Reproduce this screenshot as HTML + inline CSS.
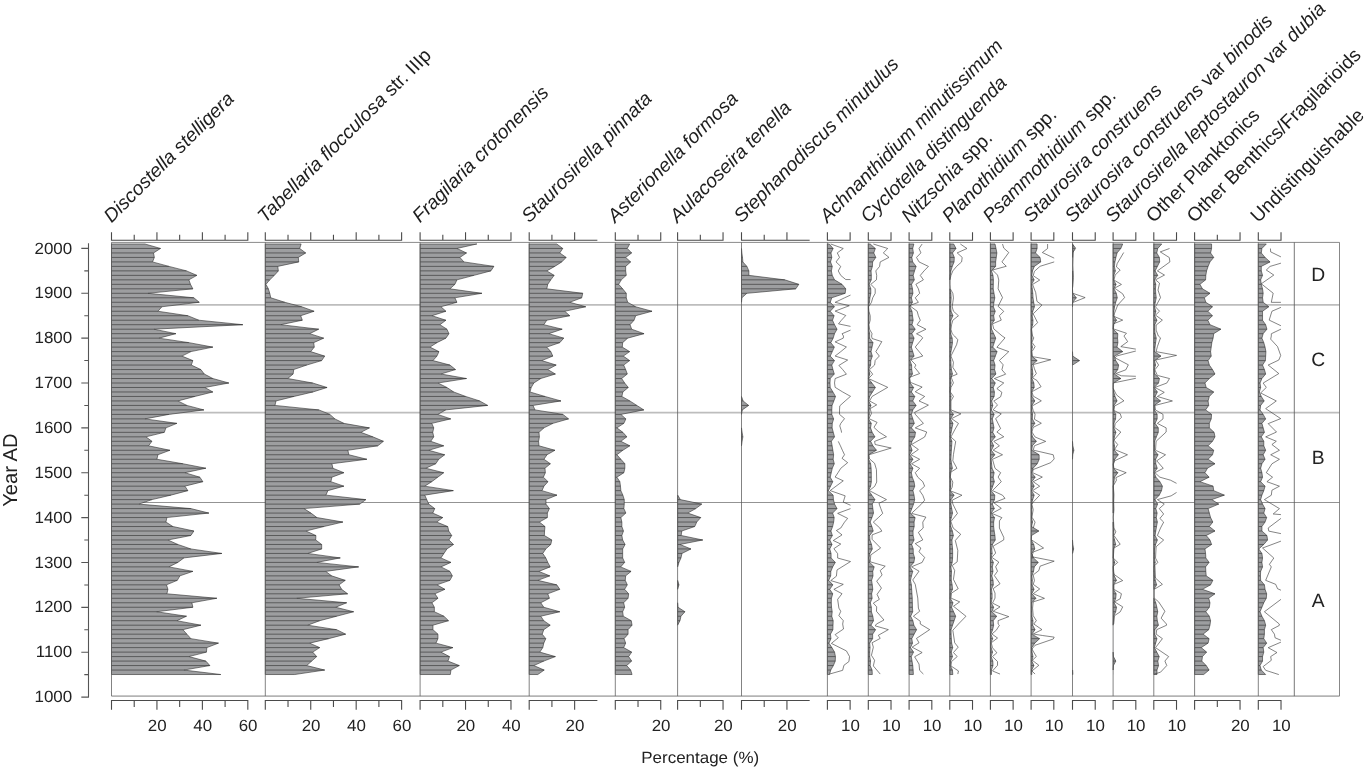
<!DOCTYPE html>
<html><head><meta charset="utf-8"><title>Diatom stratigraphy</title>
<style>html,body{margin:0;padding:0;background:#fff}svg{display:block;will-change:transform}</style></head>
<body>
<svg width="1367" height="767" viewBox="0 0 1367 767" font-family="Liberation Sans, sans-serif" text-rendering="geometricPrecision">
<rect width="1367" height="767" fill="#fff"/>
<line x1="111.50" y1="304.90" x2="1339.50" y2="304.90" stroke="#bdbdbd" stroke-width="1.7"/>
<line x1="111.50" y1="412.70" x2="1339.50" y2="412.70" stroke="#bdbdbd" stroke-width="1.7"/>
<line x1="111.50" y1="502.50" x2="1339.50" y2="502.50" stroke="#777" stroke-width="0.8"/>
<path d="M111.50 243.97 L144.94 243.97 L160.52 248.46 L153.53 252.94 L154.33 257.43 L152.53 261.91 L168.91 266.39 L186.48 270.88 L196.87 275.37 L188.88 279.85 L190.47 284.33 L192.87 288.82 L147.94 293.31 L193.87 297.79 L199.26 302.27 L161.92 306.76 L157.92 311.25 L187.88 315.73 L198.86 320.22 L242.80 324.70 L153.93 329.19 L175.90 333.67 L158.92 338.15 L188.88 342.64 L212.84 347.12 L190.87 351.61 L181.89 356.10 L192.87 360.58 L191.27 365.06 L200.86 369.55 L204.25 374.03 L212.84 378.52 L228.82 383.00 L204.85 387.49 L212.84 391.98 L194.87 396.46 L177.89 400.95 L186.88 405.43 L203.86 409.92 L168.91 414.40 L144.94 418.88 L176.89 423.37 L165.91 427.86 L164.31 432.34 L145.94 436.83 L151.93 441.31 L148.54 445.80 L169.90 450.28 L157.92 454.76 L156.92 459.25 L182.89 463.74 L205.85 468.22 L184.88 472.71 L199.86 477.19 L202.86 481.68 L184.88 486.16 L187.88 490.64 L170.90 495.13 L151.93 499.62 L138.95 504.10 L190.87 508.59 L208.85 513.07 L166.91 517.56 L165.91 522.04 L172.90 526.52 L193.87 531.01 L190.87 535.50 L167.91 539.98 L177.89 544.47 L190.87 548.95 L221.83 553.44 L183.88 557.92 L177.89 562.40 L168.91 566.89 L192.87 571.38 L179.89 575.86 L177.29 580.35 L166.51 584.83 L167.91 589.32 L166.91 593.80 L216.84 598.28 L191.87 602.77 L192.87 607.25 L156.52 611.74 L186.48 616.23 L176.89 620.71 L200.86 625.20 L182.89 629.68 L186.88 634.17 L190.87 638.65 L218.43 643.13 L206.85 647.62 L206.45 652.11 L188.88 656.59 L205.85 661.08 L209.85 665.56 L183.88 670.05 L220.83 674.53 L111.50 674.53Z" fill="#9d9ea0" stroke="none"/>
<path d="M144.94 243.97 L160.52 248.46 L153.53 252.94 L154.33 257.43 L152.53 261.91 L168.91 266.39 L186.48 270.88 L196.87 275.37 L188.88 279.85 L190.47 284.33 L192.87 288.82 L147.94 293.31 L193.87 297.79 L199.26 302.27 L161.92 306.76 L157.92 311.25 L187.88 315.73 L198.86 320.22 L242.80 324.70 L153.93 329.19 L175.90 333.67 L158.92 338.15 L188.88 342.64 L212.84 347.12 L190.87 351.61 L181.89 356.10 L192.87 360.58 L191.27 365.06 L200.86 369.55 L204.25 374.03 L212.84 378.52 L228.82 383.00 L204.85 387.49 L212.84 391.98 L194.87 396.46 L177.89 400.95 L186.88 405.43 L203.86 409.92 L168.91 414.40 L144.94 418.88 L176.89 423.37 L165.91 427.86 L164.31 432.34 L145.94 436.83 L151.93 441.31 L148.54 445.80 L169.90 450.28 L157.92 454.76 L156.92 459.25 L182.89 463.74 L205.85 468.22 L184.88 472.71 L199.86 477.19 L202.86 481.68 L184.88 486.16 L187.88 490.64 L170.90 495.13 L151.93 499.62 L138.95 504.10 L190.87 508.59 L208.85 513.07 L166.91 517.56 L165.91 522.04 L172.90 526.52 L193.87 531.01 L190.87 535.50 L167.91 539.98 L177.89 544.47 L190.87 548.95 L221.83 553.44 L183.88 557.92 L177.89 562.40 L168.91 566.89 L192.87 571.38 L179.89 575.86 L177.29 580.35 L166.51 584.83 L167.91 589.32 L166.91 593.80 L216.84 598.28 L191.87 602.77 L192.87 607.25 L156.52 611.74 L186.48 616.23 L176.89 620.71 L200.86 625.20 L182.89 629.68 L186.88 634.17 L190.87 638.65 L218.43 643.13 L206.85 647.62 L206.45 652.11 L188.88 656.59 L205.85 661.08 L209.85 665.56 L183.88 670.05 L220.83 674.53M111.50 243.97V674.53" fill="none" stroke="#303030" stroke-width="0.6" stroke-linejoin="miter"/>
<path d="M111.50 243.97H144.94M111.50 248.46H160.52M111.50 252.94H153.53M111.50 257.43H154.33M111.50 261.91H152.53M111.50 266.39H168.91M111.50 270.88H186.48M111.50 275.37H196.87M111.50 279.85H188.88M111.50 284.33H190.47M111.50 288.82H192.87M111.50 293.31H147.94M111.50 297.79H193.87M111.50 302.27H199.26M111.50 306.76H161.92M111.50 311.25H157.92M111.50 315.73H187.88M111.50 320.22H198.86M111.50 324.70H242.80M111.50 329.19H153.93M111.50 333.67H175.90M111.50 338.15H158.92M111.50 342.64H188.88M111.50 347.12H212.84M111.50 351.61H190.87M111.50 356.10H181.89M111.50 360.58H192.87M111.50 365.06H191.27M111.50 369.55H200.86M111.50 374.03H204.25M111.50 378.52H212.84M111.50 383.00H228.82M111.50 387.49H204.85M111.50 391.98H212.84M111.50 396.46H194.87M111.50 400.95H177.89M111.50 405.43H186.88M111.50 409.92H203.86M111.50 414.40H168.91M111.50 418.88H144.94M111.50 423.37H176.89M111.50 427.86H165.91M111.50 432.34H164.31M111.50 436.83H145.94M111.50 441.31H151.93M111.50 445.80H148.54M111.50 450.28H169.90M111.50 454.76H157.92M111.50 459.25H156.92M111.50 463.74H182.89M111.50 468.22H205.85M111.50 472.71H184.88M111.50 477.19H199.86M111.50 481.68H202.86M111.50 486.16H184.88M111.50 490.64H187.88M111.50 495.13H170.90M111.50 499.62H151.93M111.50 504.10H138.95M111.50 508.59H190.87M111.50 513.07H208.85M111.50 517.56H166.91M111.50 522.04H165.91M111.50 526.52H172.90M111.50 531.01H193.87M111.50 535.50H190.87M111.50 539.98H167.91M111.50 544.47H177.89M111.50 548.95H190.87M111.50 553.44H221.83M111.50 557.92H183.88M111.50 562.40H177.89M111.50 566.89H168.91M111.50 571.38H192.87M111.50 575.86H179.89M111.50 580.35H177.29M111.50 584.83H166.51M111.50 589.32H167.91M111.50 593.80H166.91M111.50 598.28H216.84M111.50 602.77H191.87M111.50 607.25H192.87M111.50 611.74H156.52M111.50 616.23H186.48M111.50 620.71H176.89M111.50 625.20H200.86M111.50 629.68H182.89M111.50 634.17H186.88M111.50 638.65H190.87M111.50 643.13H218.43M111.50 647.62H206.85M111.50 652.11H206.45M111.50 656.59H188.88M111.50 661.08H205.85M111.50 665.56H209.85M111.50 670.05H183.88M111.50 674.53H220.83" fill="none" stroke="#303030" stroke-width="0.62"/>
<path d="M265.30 243.97 L301.11 243.97 L299.71 248.46 L305.71 252.94 L298.32 257.43 L298.72 261.91 L277.75 266.39 L278.35 270.88 L274.35 275.37 L269.76 279.85 L265.96 284.33 L268.36 288.82 L269.76 293.31 L270.76 297.79 L284.74 302.27 L301.71 306.76 L314.09 311.25 L300.71 315.73 L302.31 320.22 L280.74 324.70 L318.69 329.19 L309.70 333.67 L323.68 338.15 L313.69 342.64 L314.29 347.12 L310.70 351.61 L324.68 356.10 L321.68 360.58 L306.70 365.06 L293.72 369.55 L293.12 374.03 L287.73 378.52 L312.70 383.00 L327.07 387.49 L312.93 391.98 L293.95 396.46 L275.98 400.95 L274.98 405.43 L318.92 409.92 L329.90 414.40 L334.89 418.88 L343.88 423.37 L369.44 427.86 L360.86 432.34 L372.84 436.83 L383.42 441.31 L377.83 445.80 L347.87 450.28 L348.87 454.76 L366.85 459.25 L331.90 463.74 L332.90 468.22 L343.88 472.71 L331.90 477.19 L330.90 481.68 L343.88 486.16 L327.90 490.64 L325.91 495.13 L365.85 499.62 L359.86 504.10 L303.94 508.59 L310.93 513.07 L316.92 517.56 L342.88 522.04 L323.91 526.52 L305.94 531.01 L315.92 535.50 L315.69 539.98 L321.68 544.47 L321.68 548.95 L307.70 553.44 L340.26 557.92 L316.69 562.40 L358.63 566.89 L325.68 571.38 L331.67 575.86 L345.25 580.35 L339.06 584.83 L341.65 589.32 L347.64 593.80 L296.72 598.28 L346.65 602.77 L335.66 607.25 L353.64 611.74 L336.66 616.23 L319.69 620.71 L307.70 625.20 L336.66 629.68 L345.65 634.17 L328.67 638.65 L309.70 643.13 L319.69 647.62 L312.70 652.11 L316.69 656.59 L311.70 661.08 L306.70 665.56 L324.68 670.05 L294.72 674.53 L265.30 674.53Z" fill="#9d9ea0" stroke="none"/>
<path d="M301.11 243.97 L299.71 248.46 L305.71 252.94 L298.32 257.43 L298.72 261.91 L277.75 266.39 L278.35 270.88 L274.35 275.37 L269.76 279.85 L265.96 284.33 L268.36 288.82 L269.76 293.31 L270.76 297.79 L284.74 302.27 L301.71 306.76 L314.09 311.25 L300.71 315.73 L302.31 320.22 L280.74 324.70 L318.69 329.19 L309.70 333.67 L323.68 338.15 L313.69 342.64 L314.29 347.12 L310.70 351.61 L324.68 356.10 L321.68 360.58 L306.70 365.06 L293.72 369.55 L293.12 374.03 L287.73 378.52 L312.70 383.00 L327.07 387.49 L312.93 391.98 L293.95 396.46 L275.98 400.95 L274.98 405.43 L318.92 409.92 L329.90 414.40 L334.89 418.88 L343.88 423.37 L369.44 427.86 L360.86 432.34 L372.84 436.83 L383.42 441.31 L377.83 445.80 L347.87 450.28 L348.87 454.76 L366.85 459.25 L331.90 463.74 L332.90 468.22 L343.88 472.71 L331.90 477.19 L330.90 481.68 L343.88 486.16 L327.90 490.64 L325.91 495.13 L365.85 499.62 L359.86 504.10 L303.94 508.59 L310.93 513.07 L316.92 517.56 L342.88 522.04 L323.91 526.52 L305.94 531.01 L315.92 535.50 L315.69 539.98 L321.68 544.47 L321.68 548.95 L307.70 553.44 L340.26 557.92 L316.69 562.40 L358.63 566.89 L325.68 571.38 L331.67 575.86 L345.25 580.35 L339.06 584.83 L341.65 589.32 L347.64 593.80 L296.72 598.28 L346.65 602.77 L335.66 607.25 L353.64 611.74 L336.66 616.23 L319.69 620.71 L307.70 625.20 L336.66 629.68 L345.65 634.17 L328.67 638.65 L309.70 643.13 L319.69 647.62 L312.70 652.11 L316.69 656.59 L311.70 661.08 L306.70 665.56 L324.68 670.05 L294.72 674.53M265.30 243.97V674.53" fill="none" stroke="#303030" stroke-width="0.6" stroke-linejoin="miter"/>
<path d="M265.30 243.97H301.11M265.30 248.46H299.71M265.30 252.94H305.71M265.30 257.43H298.32M265.30 261.91H298.72M265.30 266.39H277.75M265.30 270.88H278.35M265.30 275.37H274.35M265.30 279.85H269.76M265.30 284.33H265.96M265.30 288.82H268.36M265.30 293.31H269.76M265.30 297.79H270.76M265.30 302.27H284.74M265.30 306.76H301.71M265.30 311.25H314.09M265.30 315.73H300.71M265.30 320.22H302.31M265.30 324.70H280.74M265.30 329.19H318.69M265.30 333.67H309.70M265.30 338.15H323.68M265.30 342.64H313.69M265.30 347.12H314.29M265.30 351.61H310.70M265.30 356.10H324.68M265.30 360.58H321.68M265.30 365.06H306.70M265.30 369.55H293.72M265.30 374.03H293.12M265.30 378.52H287.73M265.30 383.00H312.70M265.30 387.49H327.07M265.30 391.98H312.93M265.30 396.46H293.95M265.30 400.95H275.98M265.30 405.43H274.98M265.30 409.92H318.92M265.30 414.40H329.90M265.30 418.88H334.89M265.30 423.37H343.88M265.30 427.86H369.44M265.30 432.34H360.86M265.30 436.83H372.84M265.30 441.31H383.42M265.30 445.80H377.83M265.30 450.28H347.87M265.30 454.76H348.87M265.30 459.25H366.85M265.30 463.74H331.90M265.30 468.22H332.90M265.30 472.71H343.88M265.30 477.19H331.90M265.30 481.68H330.90M265.30 486.16H343.88M265.30 490.64H327.90M265.30 495.13H325.91M265.30 499.62H365.85M265.30 504.10H359.86M265.30 508.59H303.94M265.30 513.07H310.93M265.30 517.56H316.92M265.30 522.04H342.88M265.30 526.52H323.91M265.30 531.01H305.94M265.30 535.50H315.92M265.30 539.98H315.69M265.30 544.47H321.68M265.30 548.95H321.68M265.30 553.44H307.70M265.30 557.92H340.26M265.30 562.40H316.69M265.30 566.89H358.63M265.30 571.38H325.68M265.30 575.86H331.67M265.30 580.35H345.25M265.30 584.83H339.06M265.30 589.32H341.65M265.30 593.80H347.64M265.30 598.28H296.72M265.30 602.77H346.65M265.30 607.25H335.66M265.30 611.74H353.64M265.30 616.23H336.66M265.30 620.71H319.69M265.30 625.20H307.70M265.30 629.68H336.66M265.30 634.17H345.65M265.30 638.65H328.67M265.30 643.13H309.70M265.30 647.62H319.69M265.30 652.11H312.70M265.30 656.59H316.69M265.30 661.08H311.70M265.30 665.56H306.70M265.30 670.05H324.68M265.30 674.53H294.72" fill="none" stroke="#303030" stroke-width="0.62"/>
<path d="M420.10 243.97 L476.89 243.97 L456.92 248.46 L466.50 252.94 L459.91 257.43 L463.91 261.91 L493.86 266.39 L490.87 270.88 L473.89 275.37 L456.92 279.85 L454.92 284.33 L449.93 288.82 L481.88 293.31 L454.92 297.79 L456.92 302.27 L440.94 306.76 L445.93 311.25 L431.95 315.73 L445.93 320.22 L439.94 324.70 L446.93 329.19 L448.93 333.67 L445.93 338.15 L436.95 342.64 L429.96 347.12 L438.94 351.61 L436.95 356.10 L432.95 360.58 L449.93 365.06 L455.52 369.55 L440.94 374.03 L466.50 378.52 L437.94 383.00 L446.93 387.49 L453.72 391.98 L465.70 396.46 L479.68 400.95 L487.67 405.43 L445.73 409.92 L437.74 414.40 L450.72 418.88 L431.75 423.37 L433.75 427.86 L432.75 432.34 L433.75 436.83 L430.75 441.31 L443.73 445.80 L428.76 450.28 L444.73 454.76 L438.74 459.25 L435.75 463.74 L425.76 468.22 L443.73 472.71 L437.74 477.19 L431.75 481.68 L424.76 486.16 L453.32 490.64 L424.76 495.13 L426.76 499.62 L428.76 504.10 L434.75 508.59 L432.75 513.07 L442.74 517.56 L436.74 522.04 L447.73 526.52 L448.73 531.01 L451.72 535.50 L448.93 539.98 L453.52 544.47 L446.93 548.95 L443.94 553.44 L440.94 557.92 L450.93 562.40 L440.94 566.89 L449.93 571.38 L452.32 575.86 L449.93 580.35 L436.95 584.83 L444.93 589.32 L434.95 593.80 L437.94 598.28 L431.95 602.77 L434.35 607.25 L434.35 611.74 L443.94 616.23 L448.53 620.71 L432.95 625.20 L432.95 629.68 L437.94 634.17 L437.94 638.65 L435.95 643.13 L452.92 647.62 L440.94 652.11 L449.53 656.59 L447.93 661.08 L459.31 665.56 L450.93 670.05 L450.33 674.53 L420.10 674.53Z" fill="#9d9ea0" stroke="none"/>
<path d="M476.89 243.97 L456.92 248.46 L466.50 252.94 L459.91 257.43 L463.91 261.91 L493.86 266.39 L490.87 270.88 L473.89 275.37 L456.92 279.85 L454.92 284.33 L449.93 288.82 L481.88 293.31 L454.92 297.79 L456.92 302.27 L440.94 306.76 L445.93 311.25 L431.95 315.73 L445.93 320.22 L439.94 324.70 L446.93 329.19 L448.93 333.67 L445.93 338.15 L436.95 342.64 L429.96 347.12 L438.94 351.61 L436.95 356.10 L432.95 360.58 L449.93 365.06 L455.52 369.55 L440.94 374.03 L466.50 378.52 L437.94 383.00 L446.93 387.49 L453.72 391.98 L465.70 396.46 L479.68 400.95 L487.67 405.43 L445.73 409.92 L437.74 414.40 L450.72 418.88 L431.75 423.37 L433.75 427.86 L432.75 432.34 L433.75 436.83 L430.75 441.31 L443.73 445.80 L428.76 450.28 L444.73 454.76 L438.74 459.25 L435.75 463.74 L425.76 468.22 L443.73 472.71 L437.74 477.19 L431.75 481.68 L424.76 486.16 L453.32 490.64 L424.76 495.13 L426.76 499.62 L428.76 504.10 L434.75 508.59 L432.75 513.07 L442.74 517.56 L436.74 522.04 L447.73 526.52 L448.73 531.01 L451.72 535.50 L448.93 539.98 L453.52 544.47 L446.93 548.95 L443.94 553.44 L440.94 557.92 L450.93 562.40 L440.94 566.89 L449.93 571.38 L452.32 575.86 L449.93 580.35 L436.95 584.83 L444.93 589.32 L434.95 593.80 L437.94 598.28 L431.95 602.77 L434.35 607.25 L434.35 611.74 L443.94 616.23 L448.53 620.71 L432.95 625.20 L432.95 629.68 L437.94 634.17 L437.94 638.65 L435.95 643.13 L452.92 647.62 L440.94 652.11 L449.53 656.59 L447.93 661.08 L459.31 665.56 L450.93 670.05 L450.33 674.53M420.10 243.97V674.53" fill="none" stroke="#303030" stroke-width="0.6" stroke-linejoin="miter"/>
<path d="M420.10 243.97H476.89M420.10 248.46H456.92M420.10 252.94H466.50M420.10 257.43H459.91M420.10 261.91H463.91M420.10 266.39H493.86M420.10 270.88H490.87M420.10 275.37H473.89M420.10 279.85H456.92M420.10 284.33H454.92M420.10 288.82H449.93M420.10 293.31H481.88M420.10 297.79H454.92M420.10 302.27H456.92M420.10 306.76H440.94M420.10 311.25H445.93M420.10 315.73H431.95M420.10 320.22H445.93M420.10 324.70H439.94M420.10 329.19H446.93M420.10 333.67H448.93M420.10 338.15H445.93M420.10 342.64H436.95M420.10 347.12H429.96M420.10 351.61H438.94M420.10 356.10H436.95M420.10 360.58H432.95M420.10 365.06H449.93M420.10 369.55H455.52M420.10 374.03H440.94M420.10 378.52H466.50M420.10 383.00H437.94M420.10 387.49H446.93M420.10 391.98H453.72M420.10 396.46H465.70M420.10 400.95H479.68M420.10 405.43H487.67M420.10 409.92H445.73M420.10 414.40H437.74M420.10 418.88H450.72M420.10 423.37H431.75M420.10 427.86H433.75M420.10 432.34H432.75M420.10 436.83H433.75M420.10 441.31H430.75M420.10 445.80H443.73M420.10 450.28H428.76M420.10 454.76H444.73M420.10 459.25H438.74M420.10 463.74H435.75M420.10 468.22H425.76M420.10 472.71H443.73M420.10 477.19H437.74M420.10 481.68H431.75M420.10 486.16H424.76M420.10 490.64H453.32M420.10 495.13H424.76M420.10 499.62H426.76M420.10 504.10H428.76M420.10 508.59H434.75M420.10 513.07H432.75M420.10 517.56H442.74M420.10 522.04H436.74M420.10 526.52H447.73M420.10 531.01H448.73M420.10 535.50H451.72M420.10 539.98H448.93M420.10 544.47H453.52M420.10 548.95H446.93M420.10 553.44H443.94M420.10 557.92H440.94M420.10 562.40H450.93M420.10 566.89H440.94M420.10 571.38H449.93M420.10 575.86H452.32M420.10 580.35H449.93M420.10 584.83H436.95M420.10 589.32H444.93M420.10 593.80H434.95M420.10 598.28H437.94M420.10 602.77H431.95M420.10 607.25H434.35M420.10 611.74H434.35M420.10 616.23H443.94M420.10 620.71H448.53M420.10 625.20H432.95M420.10 629.68H432.95M420.10 634.17H437.94M420.10 638.65H437.94M420.10 643.13H435.95M420.10 647.62H452.92M420.10 652.11H440.94M420.10 656.59H449.53M420.10 661.08H447.93M420.10 665.56H459.31M420.10 670.05H450.93M420.10 674.53H450.33" fill="none" stroke="#303030" stroke-width="0.62"/>
<path d="M529.20 243.97 L556.77 243.97 L562.76 248.46 L559.77 252.94 L566.16 257.43 L561.76 261.91 L554.77 266.39 L546.78 270.88 L554.17 275.37 L550.78 279.85 L547.78 284.33 L546.78 288.82 L582.73 293.31 L581.73 297.79 L569.75 302.27 L585.73 306.76 L564.76 311.25 L569.75 315.73 L546.78 320.22 L543.79 324.70 L562.16 329.19 L548.78 333.67 L563.76 338.15 L559.77 342.64 L546.78 347.12 L550.78 351.61 L552.78 356.10 L541.79 360.58 L556.17 365.06 L547.78 369.55 L555.37 374.03 L540.79 378.52 L533.80 383.00 L531.21 387.49 L529.99 391.98 L544.97 396.46 L560.95 400.95 L532.99 405.43 L534.99 409.92 L562.94 414.40 L568.54 418.88 L552.96 423.37 L543.97 427.86 L538.98 432.34 L539.38 436.83 L538.58 441.31 L538.98 445.80 L554.96 450.28 L546.97 454.76 L543.97 459.25 L550.36 463.74 L544.97 468.22 L545.37 472.71 L543.37 477.19 L547.97 481.68 L543.97 486.16 L541.98 490.64 L556.95 495.13 L545.97 499.62 L545.97 504.10 L549.36 508.59 L547.37 513.07 L547.37 517.56 L539.38 522.04 L544.97 526.52 L544.57 531.01 L544.37 535.50 L551.78 539.98 L550.78 544.47 L545.79 548.95 L542.79 553.44 L545.79 557.92 L547.78 562.40 L550.18 566.89 L538.80 571.38 L549.78 575.86 L537.80 580.35 L556.77 584.83 L559.77 589.32 L547.78 593.80 L549.38 598.28 L540.79 602.77 L543.79 607.25 L559.77 611.74 L540.79 616.23 L543.79 620.71 L550.18 625.20 L543.79 629.68 L542.19 634.17 L545.79 638.65 L543.79 643.13 L542.79 647.62 L539.80 652.11 L555.37 656.59 L543.79 661.08 L533.80 665.56 L544.19 670.05 L537.80 674.53 L529.20 674.53Z" fill="#9d9ea0" stroke="none"/>
<path d="M556.77 243.97 L562.76 248.46 L559.77 252.94 L566.16 257.43 L561.76 261.91 L554.77 266.39 L546.78 270.88 L554.17 275.37 L550.78 279.85 L547.78 284.33 L546.78 288.82 L582.73 293.31 L581.73 297.79 L569.75 302.27 L585.73 306.76 L564.76 311.25 L569.75 315.73 L546.78 320.22 L543.79 324.70 L562.16 329.19 L548.78 333.67 L563.76 338.15 L559.77 342.64 L546.78 347.12 L550.78 351.61 L552.78 356.10 L541.79 360.58 L556.17 365.06 L547.78 369.55 L555.37 374.03 L540.79 378.52 L533.80 383.00 L531.21 387.49 L529.99 391.98 L544.97 396.46 L560.95 400.95 L532.99 405.43 L534.99 409.92 L562.94 414.40 L568.54 418.88 L552.96 423.37 L543.97 427.86 L538.98 432.34 L539.38 436.83 L538.58 441.31 L538.98 445.80 L554.96 450.28 L546.97 454.76 L543.97 459.25 L550.36 463.74 L544.97 468.22 L545.37 472.71 L543.37 477.19 L547.97 481.68 L543.97 486.16 L541.98 490.64 L556.95 495.13 L545.97 499.62 L545.97 504.10 L549.36 508.59 L547.37 513.07 L547.37 517.56 L539.38 522.04 L544.97 526.52 L544.57 531.01 L544.37 535.50 L551.78 539.98 L550.78 544.47 L545.79 548.95 L542.79 553.44 L545.79 557.92 L547.78 562.40 L550.18 566.89 L538.80 571.38 L549.78 575.86 L537.80 580.35 L556.77 584.83 L559.77 589.32 L547.78 593.80 L549.38 598.28 L540.79 602.77 L543.79 607.25 L559.77 611.74 L540.79 616.23 L543.79 620.71 L550.18 625.20 L543.79 629.68 L542.19 634.17 L545.79 638.65 L543.79 643.13 L542.79 647.62 L539.80 652.11 L555.37 656.59 L543.79 661.08 L533.80 665.56 L544.19 670.05 L537.80 674.53M529.20 243.97V674.53" fill="none" stroke="#303030" stroke-width="0.6" stroke-linejoin="miter"/>
<path d="M529.20 243.97H556.77M529.20 248.46H562.76M529.20 252.94H559.77M529.20 257.43H566.16M529.20 261.91H561.76M529.20 266.39H554.77M529.20 270.88H546.78M529.20 275.37H554.17M529.20 279.85H550.78M529.20 284.33H547.78M529.20 288.82H546.78M529.20 293.31H582.73M529.20 297.79H581.73M529.20 302.27H569.75M529.20 306.76H585.73M529.20 311.25H564.76M529.20 315.73H569.75M529.20 320.22H546.78M529.20 324.70H543.79M529.20 329.19H562.16M529.20 333.67H548.78M529.20 338.15H563.76M529.20 342.64H559.77M529.20 347.12H546.78M529.20 351.61H550.78M529.20 356.10H552.78M529.20 360.58H541.79M529.20 365.06H556.17M529.20 369.55H547.78M529.20 374.03H555.37M529.20 378.52H540.79M529.20 383.00H533.80M529.20 387.49H531.21M529.20 391.98H529.99M529.20 396.46H544.97M529.20 400.95H560.95M529.20 405.43H532.99M529.20 409.92H534.99M529.20 414.40H562.94M529.20 418.88H568.54M529.20 423.37H552.96M529.20 427.86H543.97M529.20 432.34H538.98M529.20 436.83H539.38M529.20 441.31H538.58M529.20 445.80H538.98M529.20 450.28H554.96M529.20 454.76H546.97M529.20 459.25H543.97M529.20 463.74H550.36M529.20 468.22H544.97M529.20 472.71H545.37M529.20 477.19H543.37M529.20 481.68H547.97M529.20 486.16H543.97M529.20 490.64H541.98M529.20 495.13H556.95M529.20 499.62H545.97M529.20 504.10H545.97M529.20 508.59H549.36M529.20 513.07H547.37M529.20 517.56H547.37M529.20 522.04H539.38M529.20 526.52H544.97M529.20 531.01H544.57M529.20 535.50H544.37M529.20 539.98H551.78M529.20 544.47H550.78M529.20 548.95H545.79M529.20 553.44H542.79M529.20 557.92H545.79M529.20 562.40H547.78M529.20 566.89H550.18M529.20 571.38H538.80M529.20 575.86H549.78M529.20 580.35H537.80M529.20 584.83H556.77M529.20 589.32H559.77M529.20 593.80H547.78M529.20 598.28H549.38M529.20 602.77H540.79M529.20 607.25H543.79M529.20 611.74H559.77M529.20 616.23H540.79M529.20 620.71H543.79M529.20 625.20H550.18M529.20 629.68H543.79M529.20 634.17H542.19M529.20 638.65H545.79M529.20 643.13H543.79M529.20 647.62H542.79M529.20 652.11H539.80M529.20 656.59H555.37M529.20 661.08H543.79M529.20 665.56H533.80M529.20 670.05H544.19M529.20 674.53H537.80" fill="none" stroke="#303030" stroke-width="0.62"/>
<path d="M615.30 243.97 L629.66 243.97 L627.27 248.46 L631.66 252.94 L625.67 257.43 L630.66 261.91 L625.67 266.39 L625.67 270.88 L626.27 275.37 L621.28 279.85 L618.68 284.33 L622.67 288.82 L626.27 293.31 L626.27 297.79 L627.67 302.27 L635.65 306.76 L652.03 311.25 L635.65 315.73 L634.06 320.22 L630.06 324.70 L631.66 329.19 L644.04 333.67 L627.67 338.15 L622.67 342.64 L622.27 347.12 L629.66 351.61 L623.27 356.10 L629.66 360.58 L623.67 365.06 L625.67 369.55 L627.27 374.03 L621.68 378.52 L624.67 383.00 L628.27 387.49 L622.86 391.98 L621.86 396.46 L629.85 400.95 L636.84 405.43 L643.83 409.92 L620.86 414.40 L625.85 418.88 L623.86 423.37 L616.87 427.86 L622.86 432.34 L626.85 436.83 L620.86 441.31 L629.85 445.80 L622.86 450.28 L616.87 454.76 L620.86 459.25 L624.85 463.74 L624.85 468.22 L623.86 472.71 L616.87 477.19 L619.86 481.68 L620.46 486.16 L620.86 490.64 L622.86 495.13 L624.25 499.62 L624.25 504.10 L623.86 508.59 L625.85 513.07 L620.86 517.56 L621.86 522.04 L621.86 526.52 L623.46 531.01 L621.86 535.50 L622.67 539.98 L625.07 544.47 L622.67 548.95 L622.67 553.44 L622.67 557.92 L624.67 562.40 L620.68 566.89 L631.06 571.38 L625.67 575.86 L625.27 580.35 L627.27 584.83 L624.67 589.32 L628.66 593.80 L628.07 598.28 L623.67 602.77 L624.67 607.25 L622.67 611.74 L623.27 616.23 L631.26 620.71 L632.06 625.20 L628.07 629.68 L628.07 634.17 L624.07 638.65 L625.67 643.13 L623.67 647.62 L631.66 652.11 L628.66 656.59 L631.66 661.08 L626.67 665.56 L630.66 670.05 L632.06 674.53 L615.30 674.53Z" fill="#9d9ea0" stroke="none"/>
<path d="M629.66 243.97 L627.27 248.46 L631.66 252.94 L625.67 257.43 L630.66 261.91 L625.67 266.39 L625.67 270.88 L626.27 275.37 L621.28 279.85 L618.68 284.33 L622.67 288.82 L626.27 293.31 L626.27 297.79 L627.67 302.27 L635.65 306.76 L652.03 311.25 L635.65 315.73 L634.06 320.22 L630.06 324.70 L631.66 329.19 L644.04 333.67 L627.67 338.15 L622.67 342.64 L622.27 347.12 L629.66 351.61 L623.27 356.10 L629.66 360.58 L623.67 365.06 L625.67 369.55 L627.27 374.03 L621.68 378.52 L624.67 383.00 L628.27 387.49 L622.86 391.98 L621.86 396.46 L629.85 400.95 L636.84 405.43 L643.83 409.92 L620.86 414.40 L625.85 418.88 L623.86 423.37 L616.87 427.86 L622.86 432.34 L626.85 436.83 L620.86 441.31 L629.85 445.80 L622.86 450.28 L616.87 454.76 L620.86 459.25 L624.85 463.74 L624.85 468.22 L623.86 472.71 L616.87 477.19 L619.86 481.68 L620.46 486.16 L620.86 490.64 L622.86 495.13 L624.25 499.62 L624.25 504.10 L623.86 508.59 L625.85 513.07 L620.86 517.56 L621.86 522.04 L621.86 526.52 L623.46 531.01 L621.86 535.50 L622.67 539.98 L625.07 544.47 L622.67 548.95 L622.67 553.44 L622.67 557.92 L624.67 562.40 L620.68 566.89 L631.06 571.38 L625.67 575.86 L625.27 580.35 L627.27 584.83 L624.67 589.32 L628.66 593.80 L628.07 598.28 L623.67 602.77 L624.67 607.25 L622.67 611.74 L623.27 616.23 L631.26 620.71 L632.06 625.20 L628.07 629.68 L628.07 634.17 L624.07 638.65 L625.67 643.13 L623.67 647.62 L631.66 652.11 L628.66 656.59 L631.66 661.08 L626.67 665.56 L630.66 670.05 L632.06 674.53M615.30 243.97V674.53" fill="none" stroke="#303030" stroke-width="0.6" stroke-linejoin="miter"/>
<path d="M615.30 243.97H629.66M615.30 248.46H627.27M615.30 252.94H631.66M615.30 257.43H625.67M615.30 261.91H630.66M615.30 266.39H625.67M615.30 270.88H625.67M615.30 275.37H626.27M615.30 279.85H621.28M615.30 284.33H618.68M615.30 288.82H622.67M615.30 293.31H626.27M615.30 297.79H626.27M615.30 302.27H627.67M615.30 306.76H635.65M615.30 311.25H652.03M615.30 315.73H635.65M615.30 320.22H634.06M615.30 324.70H630.06M615.30 329.19H631.66M615.30 333.67H644.04M615.30 338.15H627.67M615.30 342.64H622.67M615.30 347.12H622.27M615.30 351.61H629.66M615.30 356.10H623.27M615.30 360.58H629.66M615.30 365.06H623.67M615.30 369.55H625.67M615.30 374.03H627.27M615.30 378.52H621.68M615.30 383.00H624.67M615.30 387.49H628.27M615.30 391.98H622.86M615.30 396.46H621.86M615.30 400.95H629.85M615.30 405.43H636.84M615.30 409.92H643.83M615.30 414.40H620.86M615.30 418.88H625.85M615.30 423.37H623.86M615.30 427.86H616.87M615.30 432.34H622.86M615.30 436.83H626.85M615.30 441.31H620.86M615.30 445.80H629.85M615.30 450.28H622.86M615.30 454.76H616.87M615.30 459.25H620.86M615.30 463.74H624.85M615.30 468.22H624.85M615.30 472.71H623.86M615.30 477.19H616.87M615.30 481.68H619.86M615.30 486.16H620.46M615.30 490.64H620.86M615.30 495.13H622.86M615.30 499.62H624.25M615.30 504.10H624.25M615.30 508.59H623.86M615.30 513.07H625.85M615.30 517.56H620.86M615.30 522.04H621.86M615.30 526.52H621.86M615.30 531.01H623.46M615.30 535.50H621.86M615.30 539.98H622.67M615.30 544.47H625.07M615.30 548.95H622.67M615.30 553.44H622.67M615.30 557.92H622.67M615.30 562.40H624.67M615.30 566.89H620.68M615.30 571.38H631.06M615.30 575.86H625.67M615.30 580.35H625.27M615.30 584.83H627.27M615.30 589.32H624.67M615.30 593.80H628.66M615.30 598.28H628.07M615.30 602.77H623.67M615.30 607.25H624.67M615.30 611.74H622.67M615.30 616.23H623.27M615.30 620.71H631.26M615.30 625.20H632.06M615.30 629.68H628.07M615.30 634.17H628.07M615.30 638.65H624.07M615.30 643.13H625.67M615.30 647.62H623.67M615.30 652.11H631.66M615.30 656.59H628.66M615.30 661.08H631.66M615.30 665.56H626.67M615.30 670.05H630.66M615.30 674.53H632.06" fill="none" stroke="#303030" stroke-width="0.62"/>
<path d="M677.60 243.97 L677.60 243.97 L677.60 248.46 L677.60 252.94 L677.60 257.43 L677.60 261.91 L677.60 266.39 L677.60 270.88 L677.60 275.37 L677.60 279.85 L677.60 284.33 L677.60 288.82 L677.60 293.31 L677.60 297.79 L677.60 302.27 L677.60 306.76 L677.60 311.25 L677.60 315.73 L677.60 320.22 L677.60 324.70 L677.60 329.19 L677.60 333.67 L677.60 338.15 L677.60 342.64 L677.60 347.12 L677.60 351.61 L677.60 356.10 L677.60 360.58 L677.60 365.06 L677.60 369.55 L677.60 374.03 L677.60 378.52 L677.60 383.00 L677.60 387.49 L677.60 391.98 L677.60 396.46 L677.60 400.95 L677.60 405.43 L677.60 409.92 L677.60 414.40 L677.60 418.88 L677.60 423.37 L677.60 427.86 L677.60 432.34 L677.60 436.83 L677.60 441.31 L677.60 445.80 L677.60 450.28 L677.60 454.76 L677.60 459.25 L677.60 463.74 L677.60 468.22 L677.60 472.71 L677.60 477.19 L677.60 481.68 L677.60 486.16 L677.60 490.64 L677.78 495.13 L680.37 499.62 L701.74 504.10 L695.75 508.59 L687.76 513.07 L700.74 517.56 L696.75 522.04 L694.75 526.52 L681.77 531.01 L681.17 535.50 L702.74 539.98 L679.97 544.47 L690.95 548.95 L681.97 553.44 L680.97 557.92 L678.97 562.40 L677.60 566.89 L677.60 571.38 L677.60 575.86 L677.60 580.35 L678.97 584.83 L677.60 589.32 L677.60 593.80 L677.60 598.28 L677.60 602.77 L677.97 607.25 L684.96 611.74 L680.97 616.23 L679.97 620.71 L677.60 625.20 L677.60 629.68 L677.60 634.17 L677.60 638.65 L677.60 643.13 L677.60 647.62 L677.60 652.11 L677.60 656.59 L677.60 661.08 L677.60 665.56 L677.60 670.05 L677.60 674.53 L677.60 674.53Z" fill="#9d9ea0" stroke="none"/>
<path d="M677.78 495.13 L680.37 499.62 L701.74 504.10 L695.75 508.59 L687.76 513.07 L700.74 517.56 L696.75 522.04 L694.75 526.52 L681.77 531.01 L681.17 535.50 L702.74 539.98 L679.97 544.47 L690.95 548.95 L681.97 553.44 L680.97 557.92 L678.97 562.40 L677.60 566.89M677.60 495.13V566.89M677.60 580.35 L678.97 584.83 L677.60 589.32M677.60 580.35V589.32M677.60 602.77 L677.97 607.25 L684.96 611.74 L680.97 616.23 L679.97 620.71 L677.60 625.20M677.60 602.77V625.20" fill="none" stroke="#303030" stroke-width="0.6" stroke-linejoin="miter"/>
<path d="M677.60 499.62H680.37M677.60 504.10H701.74M677.60 508.59H695.75M677.60 513.07H687.76M677.60 517.56H700.74M677.60 522.04H696.75M677.60 526.52H694.75M677.60 531.01H681.77M677.60 535.50H681.17M677.60 539.98H702.74M677.60 544.47H679.97M677.60 548.95H690.95M677.60 553.44H681.97M677.60 557.92H680.97M677.60 562.40H678.97M677.60 584.83H678.97M677.60 607.25H677.97M677.60 611.74H684.96M677.60 616.23H680.97M677.60 620.71H679.97" fill="none" stroke="#303030" stroke-width="0.62"/>
<path d="M741.50 243.97 L741.50 243.97 L741.50 248.46 L741.88 252.94 L742.48 257.43 L742.88 261.91 L746.87 266.39 L748.87 270.88 L748.87 275.37 L784.82 279.85 L798.80 284.33 L795.80 288.82 L746.87 293.31 L741.88 297.79 L741.50 302.27 L741.50 306.76 L741.50 311.25 L741.50 315.73 L741.50 320.22 L741.50 324.70 L741.50 329.19 L741.50 333.67 L741.50 338.15 L741.50 342.64 L741.50 347.12 L741.50 351.61 L741.50 356.10 L741.50 360.58 L741.50 365.06 L741.50 369.55 L741.50 374.03 L741.50 378.52 L741.50 383.00 L741.50 387.49 L741.50 391.98 L741.50 396.46 L743.08 400.95 L748.67 405.43 L742.28 409.92 L741.50 414.40 L741.50 418.88 L741.50 423.37 L741.50 427.86 L742.08 432.34 L742.88 436.83 L742.08 441.31 L741.50 445.80 L741.50 450.28 L741.50 454.76 L741.50 459.25 L741.50 463.74 L741.50 468.22 L741.50 472.71 L741.50 477.19 L741.50 481.68 L741.50 486.16 L741.50 490.64 L741.50 495.13 L741.50 499.62 L741.50 504.10 L741.50 508.59 L741.50 513.07 L741.50 517.56 L741.50 522.04 L741.50 526.52 L741.50 531.01 L741.50 535.50 L741.50 539.98 L741.50 544.47 L741.50 548.95 L741.50 553.44 L741.50 557.92 L741.50 562.40 L741.50 566.89 L741.50 571.38 L741.50 575.86 L741.50 580.35 L741.50 584.83 L741.50 589.32 L741.50 593.80 L741.50 598.28 L741.50 602.77 L741.50 607.25 L741.50 611.74 L741.50 616.23 L741.50 620.71 L741.50 625.20 L741.50 629.68 L741.50 634.17 L741.50 638.65 L741.50 643.13 L741.50 647.62 L741.50 652.11 L741.50 656.59 L741.50 661.08 L741.50 665.56 L741.50 670.05 L741.50 674.53 L741.50 674.53Z" fill="#9d9ea0" stroke="none"/>
<path d="M741.50 248.46 L741.88 252.94 L742.48 257.43 L742.88 261.91 L746.87 266.39 L748.87 270.88 L748.87 275.37 L784.82 279.85 L798.80 284.33 L795.80 288.82 L746.87 293.31 L741.88 297.79 L741.50 302.27M741.50 248.46V302.27M741.50 396.46 L743.08 400.95 L748.67 405.43 L742.28 409.92 L741.50 414.40M741.50 396.46V414.40M741.50 427.86 L742.08 432.34 L742.88 436.83 L742.08 441.31 L741.50 445.80M741.50 427.86V445.80" fill="none" stroke="#303030" stroke-width="0.6" stroke-linejoin="miter"/>
<path d="M741.50 252.94H741.88M741.50 257.43H742.48M741.50 261.91H742.88M741.50 266.39H746.87M741.50 270.88H748.87M741.50 275.37H748.87M741.50 279.85H784.82M741.50 284.33H798.80M741.50 288.82H795.80M741.50 293.31H746.87M741.50 297.79H741.88M741.50 400.95H743.08M741.50 405.43H748.67M741.50 409.92H742.28M741.50 432.34H742.08M741.50 436.83H742.88M741.50 441.31H742.08" fill="none" stroke="#303030" stroke-width="0.62"/>
<path d="M827.40 243.97 L829.26 243.97 L833.12 248.46 L830.99 252.94 L831.81 257.43 L830.53 261.91 L832.26 266.39 L831.36 270.88 L832.25 275.37 L834.52 279.85 L842.03 284.33 L845.78 288.82 L845.16 293.31 L831.76 297.79 L830.27 302.27 L834.37 306.76 L830.22 311.25 L834.09 315.73 L832.50 320.22 L834.52 324.70 L837.02 329.19 L834.52 333.67 L833.17 338.15 L830.82 342.64 L834.31 347.12 L832.28 351.61 L830.22 356.10 L834.45 360.58 L831.79 365.06 L832.95 369.55 L834.27 374.03 L830.26 378.52 L829.99 383.00 L830.22 387.49 L832.95 391.98 L835.50 396.46 L833.87 400.95 L832.07 405.43 L831.81 409.92 L831.81 414.40 L833.63 418.88 L832.27 423.37 L832.12 427.86 L833.27 432.34 L834.52 436.83 L831.39 441.31 L832.13 445.80 L832.86 450.28 L833.63 454.76 L833.17 459.25 L834.29 463.74 L832.30 468.22 L831.26 472.71 L830.22 477.19 L832.76 481.68 L830.56 486.16 L828.40 490.64 L833.12 495.13 L833.45 499.62 L834.52 504.10 L837.02 508.59 L832.64 513.07 L834.17 517.56 L833.66 522.04 L832.61 526.52 L830.91 531.01 L832.37 535.50 L829.84 539.98 L832.03 544.47 L829.76 548.95 L831.06 553.44 L831.13 557.92 L835.30 562.40 L832.68 566.89 L830.85 571.38 L830.68 575.86 L828.73 580.35 L832.84 584.83 L829.78 589.32 L832.72 593.80 L831.43 598.28 L831.30 602.77 L831.54 607.25 L832.19 611.74 L831.77 616.23 L833.17 620.71 L833.02 625.20 L832.90 629.68 L830.47 634.17 L830.96 638.65 L828.97 643.13 L831.92 647.62 L834.55 652.11 L835.45 656.59 L835.25 661.08 L833.40 665.56 L830.76 670.05 L829.51 674.53 L827.40 674.53Z" fill="#9d9ea0" stroke="none"/>
<path d="M829.26 243.97 L833.12 248.46 L830.99 252.94 L831.81 257.43 L830.53 261.91 L832.26 266.39 L831.36 270.88 L832.25 275.37 L834.52 279.85 L842.03 284.33 L845.78 288.82 L845.16 293.31 L831.76 297.79 L830.27 302.27 L834.37 306.76 L830.22 311.25 L834.09 315.73 L832.50 320.22 L834.52 324.70 L837.02 329.19 L834.52 333.67 L833.17 338.15 L830.82 342.64 L834.31 347.12 L832.28 351.61 L830.22 356.10 L834.45 360.58 L831.79 365.06 L832.95 369.55 L834.27 374.03 L830.26 378.52 L829.99 383.00 L830.22 387.49 L832.95 391.98 L835.50 396.46 L833.87 400.95 L832.07 405.43 L831.81 409.92 L831.81 414.40 L833.63 418.88 L832.27 423.37 L832.12 427.86 L833.27 432.34 L834.52 436.83 L831.39 441.31 L832.13 445.80 L832.86 450.28 L833.63 454.76 L833.17 459.25 L834.29 463.74 L832.30 468.22 L831.26 472.71 L830.22 477.19 L832.76 481.68 L830.56 486.16 L828.40 490.64 L833.12 495.13 L833.45 499.62 L834.52 504.10 L837.02 508.59 L832.64 513.07 L834.17 517.56 L833.66 522.04 L832.61 526.52 L830.91 531.01 L832.37 535.50 L829.84 539.98 L832.03 544.47 L829.76 548.95 L831.06 553.44 L831.13 557.92 L835.30 562.40 L832.68 566.89 L830.85 571.38 L830.68 575.86 L828.73 580.35 L832.84 584.83 L829.78 589.32 L832.72 593.80 L831.43 598.28 L831.30 602.77 L831.54 607.25 L832.19 611.74 L831.77 616.23 L833.17 620.71 L833.02 625.20 L832.90 629.68 L830.47 634.17 L830.96 638.65 L828.97 643.13 L831.92 647.62 L834.55 652.11 L835.45 656.59 L835.25 661.08 L833.40 665.56 L830.76 670.05 L829.51 674.53M827.40 243.97V674.53" fill="none" stroke="#303030" stroke-width="0.6" stroke-linejoin="miter"/>
<path d="M827.40 243.97H829.26M827.40 248.46H833.12M827.40 252.94H830.99M827.40 257.43H831.81M827.40 261.91H830.53M827.40 266.39H832.26M827.40 270.88H831.36M827.40 275.37H832.25M827.40 279.85H834.52M827.40 284.33H842.03M827.40 288.82H845.78M827.40 293.31H845.16M827.40 297.79H831.76M827.40 302.27H830.27M827.40 306.76H834.37M827.40 311.25H830.22M827.40 315.73H834.09M827.40 320.22H832.50M827.40 324.70H834.52M827.40 329.19H837.02M827.40 333.67H834.52M827.40 338.15H833.17M827.40 342.64H830.82M827.40 347.12H834.31M827.40 351.61H832.28M827.40 356.10H830.22M827.40 360.58H834.45M827.40 365.06H831.79M827.40 369.55H832.95M827.40 374.03H834.27M827.40 378.52H830.26M827.40 383.00H829.99M827.40 387.49H830.22M827.40 391.98H832.95M827.40 396.46H835.50M827.40 400.95H833.87M827.40 405.43H832.07M827.40 409.92H831.81M827.40 414.40H831.81M827.40 418.88H833.63M827.40 423.37H832.27M827.40 427.86H832.12M827.40 432.34H833.27M827.40 436.83H834.52M827.40 441.31H831.39M827.40 445.80H832.13M827.40 450.28H832.86M827.40 454.76H833.63M827.40 459.25H833.17M827.40 463.74H834.29M827.40 468.22H832.30M827.40 472.71H831.26M827.40 477.19H830.22M827.40 481.68H832.76M827.40 486.16H830.56M827.40 490.64H828.40M827.40 495.13H833.12M827.40 499.62H833.45M827.40 504.10H834.52M827.40 508.59H837.02M827.40 513.07H832.64M827.40 517.56H834.17M827.40 522.04H833.66M827.40 526.52H832.61M827.40 531.01H830.91M827.40 535.50H832.37M827.40 539.98H829.84M827.40 544.47H832.03M827.40 548.95H829.76M827.40 553.44H831.06M827.40 557.92H831.13M827.40 562.40H835.30M827.40 566.89H832.68M827.40 571.38H830.85M827.40 575.86H830.68M827.40 580.35H828.73M827.40 584.83H832.84M827.40 589.32H829.78M827.40 593.80H832.72M827.40 598.28H831.43M827.40 602.77H831.30M827.40 607.25H831.54M827.40 611.74H832.19M827.40 616.23H831.77M827.40 620.71H833.17M827.40 625.20H833.02M827.40 629.68H832.90M827.40 634.17H830.47M827.40 638.65H830.96M827.40 643.13H828.97M827.40 647.62H831.92M827.40 652.11H834.55M827.40 656.59H835.45M827.40 661.08H835.25M827.40 665.56H833.40M827.40 670.05H830.76M827.40 674.53H829.51" fill="none" stroke="#303030" stroke-width="0.62"/>
<path d="M830.76 244.01 L843.28 248.51 L837.27 252.89 L839.53 257.40 L836.02 261.91 L840.78 266.41 L838.27 270.92 L840.78 275.43 L845.78 279.56 L850.50 279.56" fill="none" stroke="#333" stroke-width="0.6"/>
<path d="M850.50 295.08 L844.53 297.83 L835.14 302.34 L849.29 305.72 L835.14 311.10 L845.78 315.49 L841.40 320.24 L838.52 323.87 L850.50 326.38" fill="none" stroke="#333" stroke-width="0.6"/>
<path d="M850.50 330.13 L842.03 333.76 L843.53 336.02 L843.28 338.13 L835.14 341.88 L846.41 347.02 L840.78 351.65 L835.14 356.03 L847.66 360.04 L838.90 365.42 L842.66 369.55 L846.41 374.18 L835.14 378.56 L834.52 382.94 L835.14 387.33 L842.66 391.96 L850.50 396.34 L845.16 400.97 L839.78 405.85 L839.53 409.98 L839.53 414.36 L844.53 418.62 L840.78 423.38 L839.78 425.88 L841.03 429.89 L841.53 432.02 L841.53 432.63" fill="none" stroke="#333" stroke-width="0.6"/>
<path d="M838.27 441.39 L840.40 445.77 L842.40 450.28 L844.53 454.78 L842.03 458.29 L847.66 462.67 L840.78 468.30 L838.02 472.68 L835.14 477.07 L843.28 480.82 L836.02 486.20 L830.14 490.59 L845.16 495.84 L843.28 502.10 L850.50 505.23" fill="none" stroke="#333" stroke-width="0.6"/>
<path d="M850.50 508.61 L837.65 513.37 L847.66 518.38 L844.53 522.13 L840.78 528.02 L836.40 530.50 L842.03 534.89 L833.27 540.52 L840.78 544.02 L833.89 548.66 L837.65 553.66 L837.65 558.04 L850.50 561.55 L837.02 569.94 L836.40 576.20 L830.76 580.58 L843.28 584.33 L833.89 589.34 L842.03 593.72 L837.65 599.35 L838.90 608.12 L840.78 611.25 L838.90 615.63 L843.28 620.64 L842.66 624.02 L843.53 629.01 L835.14 634.64 L838.27 637.77 L831.39 643.40 L846.41 650.91 L849.54 656.55 L848.91 661.55 L843.91 665.31 L842.66 670.32 L829.51 674.07" fill="none" stroke="#333" stroke-width="0.6"/>
<path d="M868.30 243.97 L870.13 243.97 L875.30 248.46 L873.77 252.94 L875.82 257.43 L872.63 261.91 L872.40 266.39 L871.05 270.88 L871.35 275.37 L871.27 279.85 L869.22 284.33 L870.81 288.82 L870.81 293.31 L869.91 297.79 L869.45 302.27 L868.42 306.76 L868.53 311.25 L868.99 315.73 L868.99 320.22 L868.54 324.70 L868.76 329.19 L869.65 333.67 L869.65 338.15 L873.01 342.64 L872.04 347.12 L871.05 351.61 L872.31 356.10 L870.81 360.58 L870.58 365.06 L868.77 369.55 L869.86 374.03 L868.41 378.52 L871.93 383.00 L875.36 387.49 L872.47 391.98 L869.67 396.46 L868.77 400.95 L870.99 405.43 L869.11 409.92 L869.30 414.40 L868.53 418.88 L871.27 423.37 L870.54 427.86 L872.18 432.34 L874.91 436.83 L870.66 441.31 L872.93 445.80 L876.45 450.28 L868.56 454.76 L868.76 459.25 L870.63 463.74 L871.12 468.22 L871.29 472.71 L871.32 477.19 L871.35 481.68 L870.63 486.16 L868.67 490.64 L871.81 495.13 L874.91 499.62 L872.27 504.10 L872.86 508.59 L873.50 513.07 L871.97 517.56 L870.16 522.04 L871.89 526.52 L873.19 531.01 L869.67 535.50 L869.92 539.98 L871.51 544.47 L872.29 548.95 L869.98 553.44 L869.12 557.92 L869.74 562.40 L874.16 566.89 L872.76 571.38 L873.03 575.86 L871.62 580.35 L872.27 584.83 L872.77 589.32 L871.63 593.80 L872.14 598.28 L870.32 602.77 L871.35 607.25 L871.42 611.74 L872.82 616.23 L873.52 620.71 L870.98 625.20 L875.59 629.68 L872.66 634.17 L872.63 638.65 L869.71 643.13 L870.09 647.62 L869.71 652.11 L869.74 656.59 L870.52 661.08 L870.16 665.56 L872.07 670.05 L872.32 674.53 L868.30 674.53Z" fill="#9d9ea0" stroke="none"/>
<path d="M870.13 243.97 L875.30 248.46 L873.77 252.94 L875.82 257.43 L872.63 261.91 L872.40 266.39 L871.05 270.88 L871.35 275.37 L871.27 279.85 L869.22 284.33 L870.81 288.82 L870.81 293.31 L869.91 297.79 L869.45 302.27 L868.42 306.76 L868.53 311.25 L868.99 315.73 L868.99 320.22 L868.54 324.70 L868.76 329.19 L869.65 333.67 L869.65 338.15 L873.01 342.64 L872.04 347.12 L871.05 351.61 L872.31 356.10 L870.81 360.58 L870.58 365.06 L868.77 369.55 L869.86 374.03 L868.41 378.52 L871.93 383.00 L875.36 387.49 L872.47 391.98 L869.67 396.46 L868.77 400.95 L870.99 405.43 L869.11 409.92 L869.30 414.40 L868.53 418.88 L871.27 423.37 L870.54 427.86 L872.18 432.34 L874.91 436.83 L870.66 441.31 L872.93 445.80 L876.45 450.28 L868.56 454.76 L868.76 459.25 L870.63 463.74 L871.12 468.22 L871.29 472.71 L871.32 477.19 L871.35 481.68 L870.63 486.16 L868.67 490.64 L871.81 495.13 L874.91 499.62 L872.27 504.10 L872.86 508.59 L873.50 513.07 L871.97 517.56 L870.16 522.04 L871.89 526.52 L873.19 531.01 L869.67 535.50 L869.92 539.98 L871.51 544.47 L872.29 548.95 L869.98 553.44 L869.12 557.92 L869.74 562.40 L874.16 566.89 L872.76 571.38 L873.03 575.86 L871.62 580.35 L872.27 584.83 L872.77 589.32 L871.63 593.80 L872.14 598.28 L870.32 602.77 L871.35 607.25 L871.42 611.74 L872.82 616.23 L873.52 620.71 L870.98 625.20 L875.59 629.68 L872.66 634.17 L872.63 638.65 L869.71 643.13 L870.09 647.62 L869.71 652.11 L869.74 656.59 L870.52 661.08 L870.16 665.56 L872.07 670.05 L872.32 674.53M868.30 243.97V674.53" fill="none" stroke="#303030" stroke-width="0.6" stroke-linejoin="miter"/>
<path d="M868.30 243.97H870.13M868.30 248.46H875.30M868.30 252.94H873.77M868.30 257.43H875.82M868.30 261.91H872.63M868.30 266.39H872.40M868.30 270.88H871.05M868.30 275.37H871.35M868.30 279.85H871.27M868.30 284.33H869.22M868.30 288.82H870.81M868.30 293.31H870.81M868.30 297.79H869.91M868.30 302.27H869.45M868.30 315.73H868.99M868.30 320.22H868.99M868.30 329.19H868.76M868.30 333.67H869.65M868.30 338.15H869.65M868.30 342.64H873.01M868.30 347.12H872.04M868.30 351.61H871.05M868.30 356.10H872.31M868.30 360.58H870.81M868.30 365.06H870.58M868.30 369.55H868.77M868.30 374.03H869.86M868.30 383.00H871.93M868.30 387.49H875.36M868.30 391.98H872.47M868.30 396.46H869.67M868.30 400.95H868.77M868.30 405.43H870.99M868.30 409.92H869.11M868.30 414.40H869.30M868.30 423.37H871.27M868.30 427.86H870.54M868.30 432.34H872.18M868.30 436.83H874.91M868.30 441.31H870.66M868.30 445.80H872.93M868.30 450.28H876.45M868.30 459.25H868.76M868.30 463.74H870.63M868.30 468.22H871.12M868.30 472.71H871.29M868.30 477.19H871.32M868.30 481.68H871.35M868.30 486.16H870.63M868.30 490.64H868.67M868.30 495.13H871.81M868.30 499.62H874.91M868.30 504.10H872.27M868.30 508.59H872.86M868.30 513.07H873.50M868.30 517.56H871.97M868.30 522.04H870.16M868.30 526.52H871.89M868.30 531.01H873.19M868.30 535.50H869.67M868.30 539.98H869.92M868.30 544.47H871.51M868.30 548.95H872.29M868.30 553.44H869.98M868.30 557.92H869.12M868.30 562.40H869.74M868.30 566.89H874.16M868.30 571.38H872.76M868.30 575.86H873.03M868.30 580.35H871.62M868.30 584.83H872.27M868.30 589.32H872.77M868.30 593.80H871.63M868.30 598.28H872.14M868.30 602.77H870.32M868.30 607.25H871.35M868.30 611.74H871.42M868.30 616.23H872.82M868.30 620.71H873.52M868.30 625.20H870.98M868.30 629.68H875.59M868.30 634.17H872.66M868.30 638.65H872.63M868.30 643.13H869.71M868.30 647.62H870.09M868.30 652.11H869.71M868.30 656.59H869.74M868.30 661.08H870.52M868.30 665.56H870.16M868.30 670.05H872.07M868.30 674.53H872.32" fill="none" stroke="#303030" stroke-width="0.62"/>
<path d="M873.33 244.01 L887.72 248.51 L883.34 252.89 L888.97 257.40 L880.21 261.91 L879.58 266.41 L875.83 270.92 L876.70 275.43 L876.45 279.81 L870.82 284.31 L875.20 288.82 L875.20 293.33 L872.70 297.83 L871.45 302.34 L868.57 306.85 L868.94 311.23 L870.20 315.74 L870.20 320.24 L868.94 324.75 L869.57 329.26 L872.07 333.76 L871.57 336.02 L872.07 338.50 L881.84 341.63 L878.58 347.14 L875.83 351.65 L879.33 356.03 L875.20 360.41 L874.58 365.04 L869.32 369.80 L872.70 374.18 L868.57 378.56 L887.72 387.33 L872.07 396.46 L869.57 400.97 L876.70 404.85 L870.20 408.61 L871.45 413.61 L868.94 418.62 L877.08 422.38 L873.95 427.38 L878.96 432.02 L886.47 436.76 L874.58 441.39 L875.20 444.52 L891.23 448.02 L868.94 454.78 L869.57 458.91 L874.58 463.30 L876.45 469.55 L876.70 482.07 L874.58 486.45 L869.32 490.59 L886.47 499.60 L878.96 503.35 L880.84 508.61 L882.71 513.37 L878.33 517.63 L873.33 522.13 L879.83 528.02 L881.84 531.13 L872.07 534.89 L872.07 539.27 L880.59 548.03 L870.82 554.91 L870.20 561.80 L885.22 566.18 L880.21 570.56 L882.09 574.94 L876.70 581.20 L881.46 588.09 L877.08 594.35 L879.33 599.35 L873.33 603.11 L876.70 606.87 L876.45 611.25 L883.97 620.01 L876.45 624.02 L875.20 625.88 L888.35 629.63 L878.33 635.27 L880.21 638.40 L872.07 642.78 L873.33 647.16 L871.45 655.30 L874.58 660.30 L873.33 665.94 L880.21 674.07" fill="none" stroke="#333" stroke-width="0.6"/>
<path d="M909.10 243.97 L913.84 243.97 L912.72 248.46 L913.39 252.94 L911.80 257.43 L912.71 261.91 L916.11 266.39 L914.54 270.88 L913.18 275.37 L914.30 279.85 L911.57 284.33 L912.48 288.82 L912.93 293.31 L911.36 297.79 L912.46 302.27 L909.86 306.76 L912.02 311.25 L912.48 315.73 L913.16 320.22 L912.04 324.70 L915.16 329.19 L911.87 333.67 L914.07 338.15 L912.65 342.64 L911.34 347.12 L912.73 351.61 L914.07 356.10 L910.02 360.58 L911.57 365.06 L911.77 369.55 L912.47 374.03 L909.35 378.52 L910.14 383.00 L913.62 387.49 L911.34 391.98 L914.75 396.46 L912.72 400.95 L916.12 405.43 L912.80 409.92 L911.34 414.40 L912.84 418.88 L914.30 423.37 L911.36 427.86 L915.51 432.34 L914.78 436.83 L912.02 441.31 L910.61 445.80 L912.09 450.28 L909.76 454.76 L912.91 459.25 L910.02 463.74 L912.88 468.22 L911.34 472.71 L912.25 477.19 L914.06 481.68 L914.75 486.16 L912.96 490.64 L914.05 495.13 L914.67 499.62 L913.55 504.10 L911.84 508.59 L910.09 513.07 L915.11 517.56 L914.09 522.04 L914.19 526.52 L913.03 531.01 L913.14 535.50 L914.07 539.98 L911.72 544.47 L913.22 548.95 L913.31 553.44 L914.66 557.92 L913.85 562.40 L909.97 566.89 L912.71 571.38 L911.49 575.86 L910.51 580.35 L911.37 584.83 L911.67 589.32 L911.97 593.80 L912.25 598.28 L912.36 602.77 L912.46 607.25 L912.71 611.74 L910.67 616.23 L912.89 620.71 L913.88 625.20 L916.58 629.68 L914.10 634.17 L911.80 638.65 L912.50 643.13 L910.51 647.62 L913.55 652.11 L911.25 656.59 L912.05 661.08 L912.76 665.56 L913.13 670.05 L913.38 674.53 L909.10 674.53Z" fill="#9d9ea0" stroke="none"/>
<path d="M913.84 243.97 L912.72 248.46 L913.39 252.94 L911.80 257.43 L912.71 261.91 L916.11 266.39 L914.54 270.88 L913.18 275.37 L914.30 279.85 L911.57 284.33 L912.48 288.82 L912.93 293.31 L911.36 297.79 L912.46 302.27 L909.86 306.76 L912.02 311.25 L912.48 315.73 L913.16 320.22 L912.04 324.70 L915.16 329.19 L911.87 333.67 L914.07 338.15 L912.65 342.64 L911.34 347.12 L912.73 351.61 L914.07 356.10 L910.02 360.58 L911.57 365.06 L911.77 369.55 L912.47 374.03 L909.35 378.52 L910.14 383.00 L913.62 387.49 L911.34 391.98 L914.75 396.46 L912.72 400.95 L916.12 405.43 L912.80 409.92 L911.34 414.40 L912.84 418.88 L914.30 423.37 L911.36 427.86 L915.51 432.34 L914.78 436.83 L912.02 441.31 L910.61 445.80 L912.09 450.28 L909.76 454.76 L912.91 459.25 L910.02 463.74 L912.88 468.22 L911.34 472.71 L912.25 477.19 L914.06 481.68 L914.75 486.16 L912.96 490.64 L914.05 495.13 L914.67 499.62 L913.55 504.10 L911.84 508.59 L910.09 513.07 L915.11 517.56 L914.09 522.04 L914.19 526.52 L913.03 531.01 L913.14 535.50 L914.07 539.98 L911.72 544.47 L913.22 548.95 L913.31 553.44 L914.66 557.92 L913.85 562.40 L909.97 566.89 L912.71 571.38 L911.49 575.86 L910.51 580.35 L911.37 584.83 L911.67 589.32 L911.97 593.80 L912.25 598.28 L912.36 602.77 L912.46 607.25 L912.71 611.74 L910.67 616.23 L912.89 620.71 L913.88 625.20 L916.58 629.68 L914.10 634.17 L911.80 638.65 L912.50 643.13 L910.51 647.62 L913.55 652.11 L911.25 656.59 L912.05 661.08 L912.76 665.56 L913.13 670.05 L913.38 674.53M909.10 243.97V674.53" fill="none" stroke="#303030" stroke-width="0.6" stroke-linejoin="miter"/>
<path d="M909.10 243.97H913.84M909.10 248.46H912.72M909.10 252.94H913.39M909.10 257.43H911.80M909.10 261.91H912.71M909.10 266.39H916.11M909.10 270.88H914.54M909.10 275.37H913.18M909.10 279.85H914.30M909.10 284.33H911.57M909.10 288.82H912.48M909.10 293.31H912.93M909.10 297.79H911.36M909.10 302.27H912.46M909.10 306.76H909.86M909.10 311.25H912.02M909.10 315.73H912.48M909.10 320.22H913.16M909.10 324.70H912.04M909.10 329.19H915.16M909.10 333.67H911.87M909.10 338.15H914.07M909.10 342.64H912.65M909.10 347.12H911.34M909.10 351.61H912.73M909.10 356.10H914.07M909.10 360.58H910.02M909.10 365.06H911.57M909.10 369.55H911.77M909.10 374.03H912.47M909.10 383.00H910.14M909.10 387.49H913.62M909.10 391.98H911.34M909.10 396.46H914.75M909.10 400.95H912.72M909.10 405.43H916.12M909.10 409.92H912.80M909.10 414.40H911.34M909.10 418.88H912.84M909.10 423.37H914.30M909.10 427.86H911.36M909.10 432.34H915.51M909.10 436.83H914.78M909.10 441.31H912.02M909.10 445.80H910.61M909.10 450.28H912.09M909.10 454.76H909.76M909.10 459.25H912.91M909.10 463.74H910.02M909.10 468.22H912.88M909.10 472.71H911.34M909.10 477.19H912.25M909.10 481.68H914.06M909.10 486.16H914.75M909.10 490.64H912.96M909.10 495.13H914.05M909.10 499.62H914.67M909.10 504.10H913.55M909.10 508.59H911.84M909.10 513.07H910.09M909.10 517.56H915.11M909.10 522.04H914.09M909.10 526.52H914.19M909.10 531.01H913.03M909.10 535.50H913.14M909.10 539.98H914.07M909.10 544.47H911.72M909.10 548.95H913.22M909.10 553.44H913.31M909.10 557.92H914.66M909.10 562.40H913.85M909.10 566.89H909.97M909.10 571.38H912.71M909.10 575.86H911.49M909.10 580.35H910.51M909.10 584.83H911.37M909.10 589.32H911.67M909.10 593.80H911.97M909.10 598.28H912.25M909.10 602.77H912.36M909.10 607.25H912.46M909.10 611.74H912.71M909.10 616.23H910.67M909.10 620.71H912.89M909.10 625.20H913.88M909.10 629.68H916.58M909.10 634.17H914.10M909.10 638.65H911.80M909.10 643.13H912.50M909.10 647.62H910.51M909.10 652.11H913.55M909.10 656.59H911.25M909.10 661.08H912.05M909.10 665.56H912.76M909.10 670.05H913.13M909.10 674.53H913.38" fill="none" stroke="#303030" stroke-width="0.62"/>
<path d="M922.15 244.01 L919.02 248.51 L920.89 252.89 L916.51 257.40 L919.02 261.91 L928.41 266.41 L924.02 270.92 L920.27 275.43 L923.40 279.81 L915.89 284.31 L918.39 288.82 L919.64 293.33 L915.26 297.83 L918.39 302.34 L909.63 305.60 L917.14 311.23 L918.39 315.74 L920.27 320.24 L917.14 324.75 L925.90 329.26 L916.51 333.76 L920.89 336.02 L922.77 337.88 L915.26 347.02 L922.77 356.03 L910.88 359.78 L915.89 365.04 L914.64 367.30 L919.64 373.55 L909.63 377.31 L910.25 382.32 L922.15 387.07 L915.26 391.71 L924.65 396.46 L919.02 400.97 L928.41 405.10 L914.64 412.36 L915.26 414.24 L923.40 423.38 L915.26 427.88 L926.72 432.02 L924.65 437.01 L911.51 444.52 L918.39 449.53 L910.88 454.78 L919.64 459.29 L911.51 463.80 L919.64 468.30 L915.26 472.68 L917.77 477.19 L922.77 481.70 L924.65 486.20 L919.64 490.71 L922.77 495.22 L924.65 500.22 L920.89 504.61 L911.51 513.37 L925.90 517.12 L922.77 522.13 L923.21 528.02 L918.39 532.38 L922.77 539.89 L915.26 543.65 L920.89 548.03 L919.02 551.78 L924.65 557.42 L922.15 562.43 L911.51 566.81 L919.02 571.19 L912.76 579.95 L915.26 584.33 L917.77 598.10 L918.39 608.12 L919.64 611.25 L913.38 616.25 L920.27 621.26 L920.27 624.02 L929.66 629.63 L916.51 638.40 L919.02 642.78 L912.13 647.16 L922.15 652.54 L914.64 656.80 L919.02 664.06 L919.64 670.32 L923.40 674.07" fill="none" stroke="#333" stroke-width="0.6"/>
<path d="M949.80 243.97 L953.63 243.97 L956.01 248.46 L952.49 252.94 L954.31 257.43 L954.08 261.91 L952.27 266.39 L950.91 270.88 L950.22 275.37 L949.85 279.85 L949.85 284.33 L949.99 288.82 L950.89 293.31 L951.12 297.79 L950.90 302.27 L950.67 306.76 L951.12 311.25 L952.94 315.73 L950.91 320.22 L950.45 324.70 L950.22 329.19 L950.66 333.67 L952.21 338.15 L952.46 342.64 L951.83 347.12 L951.02 351.61 L950.21 356.10 L950.88 360.58 L951.00 365.06 L951.42 369.55 L952.46 374.03 L950.48 378.52 L951.12 383.00 L950.21 387.49 L949.99 391.98 L951.12 396.46 L950.22 400.95 L950.21 405.43 L950.21 409.92 L953.47 414.40 L950.44 418.88 L952.94 423.37 L952.01 427.86 L951.17 432.34 L950.25 436.83 L951.91 441.31 L951.67 445.80 L951.39 450.28 L951.12 454.76 L950.95 459.25 L951.49 463.74 L952.38 468.22 L950.18 472.71 L949.99 477.19 L950.82 481.68 L950.71 486.16 L950.02 490.64 L954.14 495.13 L951.10 499.62 L950.90 504.10 L951.72 508.59 L952.53 513.07 L951.36 517.56 L950.28 522.04 L950.83 526.52 L952.33 531.01 L953.38 535.50 L951.98 539.98 L952.17 544.47 L952.57 548.95 L952.66 553.44 L952.57 557.92 L952.20 562.40 L950.91 566.89 L951.54 571.38 L951.30 575.86 L951.31 580.35 L952.14 584.83 L952.52 589.32 L950.41 593.80 L950.21 598.28 L952.93 602.77 L951.59 607.25 L953.62 611.74 L955.66 616.23 L954.11 620.71 L952.56 625.20 L951.09 629.68 L951.11 634.17 L951.35 638.65 L951.68 643.13 L952.71 647.62 L951.26 652.11 L952.49 656.59 L950.64 661.08 L950.23 665.56 L952.44 670.05 L952.82 674.53 L949.80 674.53Z" fill="#9d9ea0" stroke="none"/>
<path d="M953.63 243.97 L956.01 248.46 L952.49 252.94 L954.31 257.43 L954.08 261.91 L952.27 266.39 L950.91 270.88 L950.22 275.37 L949.85 279.85M949.80 243.97V279.85M949.99 288.82 L950.89 293.31 L951.12 297.79 L950.90 302.27 L950.67 306.76 L951.12 311.25 L952.94 315.73 L950.91 320.22 L950.45 324.70 L950.22 329.19 L950.66 333.67 L952.21 338.15 L952.46 342.64 L951.83 347.12 L951.02 351.61 L950.21 356.10 L950.88 360.58 L951.00 365.06 L951.42 369.55 L952.46 374.03 L950.48 378.52 L951.12 383.00 L950.21 387.49 L949.99 391.98 L951.12 396.46 L950.22 400.95 L950.21 405.43 L950.21 409.92 L953.47 414.40 L950.44 418.88 L952.94 423.37 L952.01 427.86 L951.17 432.34 L950.25 436.83 L951.91 441.31 L951.67 445.80 L951.39 450.28 L951.12 454.76 L950.95 459.25 L951.49 463.74 L952.38 468.22 L950.18 472.71 L949.99 477.19 L950.82 481.68 L950.71 486.16 L950.02 490.64 L954.14 495.13 L951.10 499.62 L950.90 504.10 L951.72 508.59 L952.53 513.07 L951.36 517.56 L950.28 522.04 L950.83 526.52 L952.33 531.01 L953.38 535.50 L951.98 539.98 L952.17 544.47 L952.57 548.95 L952.66 553.44 L952.57 557.92 L952.20 562.40 L950.91 566.89 L951.54 571.38 L951.30 575.86 L951.31 580.35 L952.14 584.83 L952.52 589.32 L950.41 593.80 L950.21 598.28 L952.93 602.77 L951.59 607.25 L953.62 611.74 L955.66 616.23 L954.11 620.71 L952.56 625.20 L951.09 629.68 L951.11 634.17 L951.35 638.65 L951.68 643.13 L952.71 647.62 L951.26 652.11 L952.49 656.59 L950.64 661.08 L950.23 665.56 L952.44 670.05 L952.82 674.53M949.80 288.82V674.53" fill="none" stroke="#303030" stroke-width="0.6" stroke-linejoin="miter"/>
<path d="M949.80 243.97H953.63M949.80 248.46H956.01M949.80 252.94H952.49M949.80 257.43H954.31M949.80 261.91H954.08M949.80 266.39H952.27M949.80 270.88H950.91M949.80 275.37H950.22M949.80 293.31H950.89M949.80 297.79H951.12M949.80 302.27H950.90M949.80 306.76H950.67M949.80 311.25H951.12M949.80 315.73H952.94M949.80 320.22H950.91M949.80 324.70H950.45M949.80 329.19H950.22M949.80 333.67H950.66M949.80 338.15H952.21M949.80 342.64H952.46M949.80 347.12H951.83M949.80 351.61H951.02M949.80 356.10H950.21M949.80 360.58H950.88M949.80 365.06H951.00M949.80 369.55H951.42M949.80 374.03H952.46M949.80 378.52H950.48M949.80 383.00H951.12M949.80 387.49H950.21M949.80 396.46H951.12M949.80 400.95H950.22M949.80 405.43H950.21M949.80 409.92H950.21M949.80 414.40H953.47M949.80 418.88H950.44M949.80 423.37H952.94M949.80 427.86H952.01M949.80 432.34H951.17M949.80 436.83H950.25M949.80 441.31H951.91M949.80 445.80H951.67M949.80 450.28H951.39M949.80 454.76H951.12M949.80 459.25H950.95M949.80 463.74H951.49M949.80 468.22H952.38M949.80 472.71H950.18M949.80 481.68H950.82M949.80 486.16H950.71M949.80 495.13H954.14M949.80 499.62H951.10M949.80 504.10H950.90M949.80 508.59H951.72M949.80 513.07H952.53M949.80 517.56H951.36M949.80 522.04H950.28M949.80 526.52H950.83M949.80 531.01H952.33M949.80 535.50H953.38M949.80 539.98H951.98M949.80 544.47H952.17M949.80 548.95H952.57M949.80 553.44H952.66M949.80 557.92H952.57M949.80 562.40H952.20M949.80 566.89H950.91M949.80 571.38H951.54M949.80 575.86H951.30M949.80 580.35H951.31M949.80 584.83H952.14M949.80 589.32H952.52M949.80 593.80H950.41M949.80 598.28H950.21M949.80 602.77H952.93M949.80 607.25H951.59M949.80 611.74H953.62M949.80 616.23H955.66M949.80 620.71H954.11M949.80 625.20H952.56M949.80 629.68H951.09M949.80 634.17H951.11M949.80 638.65H951.35M949.80 643.13H951.68M949.80 647.62H952.71M949.80 652.11H951.26M949.80 656.59H952.49M949.80 661.08H950.64M949.80 665.56H950.23M949.80 670.05H952.44M949.80 674.53H952.82" fill="none" stroke="#303030" stroke-width="0.62"/>
<path d="M960.33 244.01 L966.96 248.51 L957.20 252.89 L962.20 257.40 L961.58 261.91 L956.57 266.41 L952.82 270.92 L950.94 275.43 L949.94 279.81 L949.94 284.31 L950.31 288.82 L952.82 293.33 L953.44 297.83 L952.82 302.34 L952.19 306.85 L953.44 311.23 L958.45 315.74 L952.82 320.24 L951.56 324.75 L950.94 329.26 L952.19 333.76 L954.57 336.02 L957.82 339.76 L956.57 344.76 L950.94 356.03 L953.44 362.29 L952.82 367.30 L957.20 374.18 L950.94 376.68 L953.44 382.94 L950.94 387.45 L950.31 391.96 L953.44 396.46 L950.94 400.97 L950.94 409.86 L960.95 413.86 L951.56 418.62 L958.45 423.38 L954.69 429.89 L953.57 432.02 L950.94 437.01 L955.70 441.39 L954.94 445.77 L953.44 454.53 L952.82 460.79 L956.95 468.30 L950.94 472.06 L950.31 477.07 L952.82 482.07 L952.19 487.08 L950.31 490.84 L961.95 495.22 L952.19 500.22 L952.82 503.98 L957.45 513.37 L950.94 521.51 L953.13 528.02 L960.70 534.26 L955.32 540.52 L957.82 550.53 L957.20 561.80 L952.19 565.55 L954.69 570.56 L953.44 579.33 L958.20 588.71 L951.56 593.10 L950.94 598.10 L959.70 601.86 L953.44 606.24 L965.96 616.25 L958.45 624.02 L952.82 630.26 L954.69 642.78 L958.20 647.16 L953.44 652.54 L957.20 656.55 L951.56 661.55 L950.94 665.94 L958.45 670.94 L957.82 674.07" fill="none" stroke="#333" stroke-width="0.6"/>
<path d="M990.40 243.97 L995.01 243.97 L996.02 248.46 L996.89 252.94 L996.27 257.43 L995.64 261.91 L995.64 266.39 L991.47 270.88 L992.99 275.37 L993.42 279.85 L993.33 284.33 L993.22 288.82 L994.03 293.31 L994.81 297.79 L993.96 302.27 L993.39 306.76 L995.22 311.25 L993.67 315.73 L994.35 320.22 L991.24 324.70 L991.62 329.19 L993.69 333.67 L995.72 338.15 L994.22 342.64 L992.81 347.12 L997.05 351.61 L995.35 356.10 L993.67 360.58 L995.04 365.06 L994.60 369.55 L995.90 374.03 L991.89 378.52 L995.26 383.00 L993.24 387.49 L994.41 391.98 L994.15 396.46 L991.71 400.95 L992.80 405.43 L991.40 409.92 L994.12 414.40 L992.31 418.88 L993.17 423.37 L993.98 427.86 L992.76 432.34 L995.26 436.83 L991.68 441.31 L993.67 445.80 L991.40 450.28 L994.80 454.76 L991.20 459.25 L991.62 463.74 L992.07 468.22 L994.13 472.71 L993.22 477.19 L994.35 481.68 L992.75 486.16 L991.17 490.64 L994.74 495.13 L994.53 499.62 L992.29 504.10 L994.35 508.59 L991.14 513.07 L994.52 517.56 L993.67 522.04 L993.67 526.52 L994.18 531.01 L994.94 535.50 L995.26 539.98 L992.44 544.47 L991.77 548.95 L992.18 553.44 L991.21 557.92 L993.36 562.40 L992.31 566.89 L992.99 571.38 L991.85 575.86 L993.05 580.35 L993.34 584.83 L991.49 589.32 L992.08 593.80 L992.08 598.28 L991.23 602.77 L993.68 607.25 L991.92 611.74 L996.66 616.23 L993.22 620.71 L993.65 625.20 L992.66 629.68 L990.94 634.17 L992.69 638.65 L990.74 643.13 L991.15 647.62 L992.54 652.11 L991.17 656.59 L992.81 661.08 L992.99 665.56 L991.46 670.05 L991.46 674.53 L990.40 674.53Z" fill="#9d9ea0" stroke="none"/>
<path d="M995.01 243.97 L996.02 248.46 L996.89 252.94 L996.27 257.43 L995.64 261.91 L995.64 266.39 L991.47 270.88 L992.99 275.37 L993.42 279.85 L993.33 284.33 L993.22 288.82 L994.03 293.31 L994.81 297.79 L993.96 302.27 L993.39 306.76 L995.22 311.25 L993.67 315.73 L994.35 320.22 L991.24 324.70 L991.62 329.19 L993.69 333.67 L995.72 338.15 L994.22 342.64 L992.81 347.12 L997.05 351.61 L995.35 356.10 L993.67 360.58 L995.04 365.06 L994.60 369.55 L995.90 374.03 L991.89 378.52 L995.26 383.00 L993.24 387.49 L994.41 391.98 L994.15 396.46 L991.71 400.95 L992.80 405.43 L991.40 409.92 L994.12 414.40 L992.31 418.88 L993.17 423.37 L993.98 427.86 L992.76 432.34 L995.26 436.83 L991.68 441.31 L993.67 445.80 L991.40 450.28 L994.80 454.76 L991.20 459.25 L991.62 463.74 L992.07 468.22 L994.13 472.71 L993.22 477.19 L994.35 481.68 L992.75 486.16 L991.17 490.64 L994.74 495.13 L994.53 499.62 L992.29 504.10 L994.35 508.59 L991.14 513.07 L994.52 517.56 L993.67 522.04 L993.67 526.52 L994.18 531.01 L994.94 535.50 L995.26 539.98 L992.44 544.47 L991.77 548.95 L992.18 553.44 L991.21 557.92 L993.36 562.40 L992.31 566.89 L992.99 571.38 L991.85 575.86 L993.05 580.35 L993.34 584.83 L991.49 589.32 L992.08 593.80 L992.08 598.28 L991.23 602.77 L993.68 607.25 L991.92 611.74 L996.66 616.23 L993.22 620.71 L993.65 625.20 L992.66 629.68 L990.94 634.17 L992.69 638.65 L990.74 643.13 L991.15 647.62 L992.54 652.11 L991.17 656.59 L992.81 661.08 L992.99 665.56 L991.46 670.05 L991.46 674.53M990.40 243.97V674.53" fill="none" stroke="#303030" stroke-width="0.6" stroke-linejoin="miter"/>
<path d="M990.40 243.97H995.01M990.40 248.46H996.02M990.40 252.94H996.89M990.40 257.43H996.27M990.40 261.91H995.64M990.40 266.39H995.64M990.40 270.88H991.47M990.40 275.37H992.99M990.40 279.85H993.42M990.40 284.33H993.33M990.40 288.82H993.22M990.40 293.31H994.03M990.40 297.79H994.81M990.40 302.27H993.96M990.40 306.76H993.39M990.40 311.25H995.22M990.40 315.73H993.67M990.40 320.22H994.35M990.40 324.70H991.24M990.40 329.19H991.62M990.40 333.67H993.69M990.40 338.15H995.72M990.40 342.64H994.22M990.40 347.12H992.81M990.40 351.61H997.05M990.40 356.10H995.35M990.40 360.58H993.67M990.40 365.06H995.04M990.40 369.55H994.60M990.40 374.03H995.90M990.40 378.52H991.89M990.40 383.00H995.26M990.40 387.49H993.24M990.40 391.98H994.41M990.40 396.46H994.15M990.40 400.95H991.71M990.40 405.43H992.80M990.40 409.92H991.40M990.40 414.40H994.12M990.40 418.88H992.31M990.40 423.37H993.17M990.40 427.86H993.98M990.40 432.34H992.76M990.40 436.83H995.26M990.40 441.31H991.68M990.40 445.80H993.67M990.40 450.28H991.40M990.40 454.76H994.80M990.40 459.25H991.20M990.40 463.74H991.62M990.40 468.22H992.07M990.40 472.71H994.13M990.40 477.19H993.22M990.40 481.68H994.35M990.40 486.16H992.75M990.40 490.64H991.17M990.40 495.13H994.74M990.40 499.62H994.53M990.40 504.10H992.29M990.40 508.59H994.35M990.40 513.07H991.14M990.40 517.56H994.52M990.40 522.04H993.67M990.40 526.52H993.67M990.40 531.01H994.18M990.40 535.50H994.94M990.40 539.98H995.26M990.40 544.47H992.44M990.40 548.95H991.77M990.40 553.44H992.18M990.40 557.92H991.21M990.40 562.40H993.36M990.40 566.89H992.31M990.40 571.38H992.99M990.40 575.86H991.85M990.40 580.35H993.05M990.40 584.83H993.34M990.40 589.32H991.49M990.40 593.80H992.08M990.40 598.28H992.08M990.40 602.77H991.23M990.40 607.25H993.68M990.40 611.74H991.92M990.40 616.23H996.66M990.40 620.71H993.22M990.40 625.20H993.65M990.40 629.68H992.66M990.40 634.17H990.94M990.40 638.65H992.69M990.40 643.13H990.74M990.40 647.62H991.15M990.40 652.11H992.54M990.40 656.59H991.17M990.40 661.08H992.81M990.40 665.56H992.99M990.40 670.05H991.46M990.40 674.53H991.46" fill="none" stroke="#303030" stroke-width="0.62"/>
<path d="M1002.53 244.01 L1003.78 248.14 L1008.78 252.52 L1001.90 261.91 L1006.28 266.29 L992.51 270.04 L997.52 275.05 L998.77 280.06 L998.14 288.82 L1002.53 297.58 L998.14 306.35 L1003.78 311.35 L999.40 315.74 L1001.27 320.12 L992.51 323.87 L993.76 328.88 L1002.21 336.02 L1005.03 337.88 L996.89 347.27 L1008.78 351.65 L999.40 360.41 L1003.15 364.79 L1001.90 369.80 L1005.66 374.18 L994.39 378.56 L1003.78 382.94 L996.89 388.58 L1001.90 392.33 L1000.65 396.71 L993.76 401.10 L997.52 404.85 L993.14 409.86 L1001.27 413.86 L995.64 418.62 L1000.65 428.64 L996.89 432.02 L1003.78 436.76 L993.76 441.39 L999.40 445.77 L993.14 450.15 L1002.53 454.78 L992.51 459.29 L995.01 468.30 L1000.65 472.68 L998.14 477.07 L1001.27 481.70 L992.51 490.59 L1002.53 495.22 L1005.03 498.35 L993.76 502.73 L1001.27 508.36 L991.89 513.37 L1001.90 517.63 L999.40 520.88 L999.40 528.02 L1003.78 537.39 L1003.78 539.89 L993.14 546.15 L995.64 553.04 L991.89 557.42 L998.77 562.05 L995.64 566.81 L997.52 571.19 L994.39 575.57 L1000.02 583.71 L993.14 588.71 L995.01 593.10 L995.01 598.10 L992.51 603.11 L1000.02 606.87 L993.14 611.25 L1008.78 616.63 L998.14 620.64 L998.14 624.02 L999.40 625.25 L996.27 630.26 L991.89 634.01 L997.52 638.02 L991.26 642.78 L992.51 647.78 L996.89 652.79 L992.51 656.55 L997.52 661.55 L997.52 665.31 L992.51 670.94 L1000.02 674.07" fill="none" stroke="#333" stroke-width="0.6"/>
<path d="M1031.10 243.97 L1037.10 243.97 L1037.10 248.46 L1035.51 252.94 L1040.08 257.43 L1040.71 261.91 L1034.37 266.39 L1032.49 270.88 L1031.89 275.37 L1034.12 279.85 L1031.70 284.33 L1032.25 288.82 L1032.81 293.31 L1033.04 297.79 L1033.68 302.27 L1034.44 306.76 L1032.81 311.25 L1032.20 315.73 L1033.02 320.22 L1032.70 324.70 L1031.27 329.19 L1031.51 333.67 L1032.09 338.15 L1031.51 342.64 L1032.43 347.12 L1031.42 351.61 L1031.61 356.10 L1037.17 360.58 L1031.92 365.06 L1032.43 369.55 L1032.85 374.03 L1032.01 378.52 L1033.84 383.00 L1034.20 387.49 L1031.41 391.98 L1032.09 396.46 L1034.82 400.95 L1031.84 405.43 L1031.80 409.92 L1032.54 414.40 L1032.33 418.88 L1034.82 423.37 L1031.82 427.86 L1031.41 432.34 L1032.50 436.83 L1036.34 441.31 L1032.32 445.80 L1031.86 450.28 L1039.12 454.76 L1039.20 459.25 L1037.25 463.74 L1033.10 468.22 L1031.63 472.71 L1035.19 477.19 L1031.88 481.68 L1034.21 486.16 L1031.63 490.64 L1034.18 495.13 L1032.72 499.62 L1031.50 504.10 L1031.77 508.59 L1031.65 513.07 L1031.50 517.56 L1032.52 522.04 L1031.57 526.52 L1038.83 531.01 L1031.57 535.50 L1031.32 539.98 L1033.73 544.47 L1034.77 548.95 L1031.73 553.44 L1033.49 557.92 L1038.24 562.40 L1034.29 566.89 L1033.53 571.38 L1031.94 575.86 L1032.30 580.35 L1032.12 584.83 L1034.05 589.32 L1031.86 593.80 L1035.90 598.28 L1031.83 602.77 L1031.67 607.25 L1031.74 611.74 L1032.00 616.23 L1033.00 620.71 L1032.71 625.20 L1035.05 629.68 L1031.86 634.17 L1039.58 638.65 L1034.81 643.13 L1031.84 647.62 L1032.06 652.11 L1033.00 656.59 L1031.91 661.08 L1033.91 665.56 L1031.81 670.05 L1031.81 674.53 L1031.10 674.53Z" fill="#9d9ea0" stroke="none"/>
<path d="M1037.10 243.97 L1037.10 248.46 L1035.51 252.94 L1040.08 257.43 L1040.71 261.91 L1034.37 266.39 L1032.49 270.88 L1031.89 275.37 L1034.12 279.85 L1031.70 284.33 L1032.25 288.82 L1032.81 293.31 L1033.04 297.79 L1033.68 302.27 L1034.44 306.76 L1032.81 311.25 L1032.20 315.73 L1033.02 320.22 L1032.70 324.70 L1031.27 329.19 L1031.51 333.67 L1032.09 338.15 L1031.51 342.64 L1032.43 347.12 L1031.42 351.61 L1031.61 356.10 L1037.17 360.58 L1031.92 365.06 L1032.43 369.55 L1032.85 374.03 L1032.01 378.52 L1033.84 383.00 L1034.20 387.49 L1031.41 391.98 L1032.09 396.46 L1034.82 400.95 L1031.84 405.43 L1031.80 409.92 L1032.54 414.40 L1032.33 418.88 L1034.82 423.37 L1031.82 427.86 L1031.41 432.34 L1032.50 436.83 L1036.34 441.31 L1032.32 445.80 L1031.86 450.28 L1039.12 454.76 L1039.20 459.25 L1037.25 463.74 L1033.10 468.22 L1031.63 472.71 L1035.19 477.19 L1031.88 481.68 L1034.21 486.16 L1031.63 490.64 L1034.18 495.13 L1032.72 499.62 L1031.50 504.10 L1031.77 508.59 L1031.65 513.07 L1031.50 517.56 L1032.52 522.04 L1031.57 526.52 L1038.83 531.01 L1031.57 535.50 L1031.32 539.98 L1033.73 544.47 L1034.77 548.95 L1031.73 553.44 L1033.49 557.92 L1038.24 562.40 L1034.29 566.89 L1033.53 571.38 L1031.94 575.86 L1032.30 580.35 L1032.12 584.83 L1034.05 589.32 L1031.86 593.80 L1035.90 598.28 L1031.83 602.77 L1031.67 607.25 L1031.74 611.74 L1032.00 616.23 L1033.00 620.71 L1032.71 625.20 L1035.05 629.68 L1031.86 634.17 L1039.58 638.65 L1034.81 643.13 L1031.84 647.62 L1032.06 652.11 L1033.00 656.59 L1031.91 661.08 L1033.91 665.56 L1031.81 670.05 L1031.81 674.53M1031.10 243.97V674.53" fill="none" stroke="#303030" stroke-width="0.6" stroke-linejoin="miter"/>
<path d="M1031.10 243.97H1037.10M1031.10 248.46H1037.10M1031.10 252.94H1035.51M1031.10 257.43H1040.08M1031.10 261.91H1040.71M1031.10 266.39H1034.37M1031.10 270.88H1032.49M1031.10 275.37H1031.89M1031.10 279.85H1034.12M1031.10 284.33H1031.70M1031.10 288.82H1032.25M1031.10 293.31H1032.81M1031.10 297.79H1033.04M1031.10 302.27H1033.68M1031.10 306.76H1034.44M1031.10 311.25H1032.81M1031.10 315.73H1032.20M1031.10 320.22H1033.02M1031.10 324.70H1032.70M1031.10 333.67H1031.51M1031.10 338.15H1032.09M1031.10 342.64H1031.51M1031.10 347.12H1032.43M1031.10 351.61H1031.42M1031.10 356.10H1031.61M1031.10 360.58H1037.17M1031.10 365.06H1031.92M1031.10 369.55H1032.43M1031.10 374.03H1032.85M1031.10 378.52H1032.01M1031.10 383.00H1033.84M1031.10 387.49H1034.20M1031.10 391.98H1031.41M1031.10 396.46H1032.09M1031.10 400.95H1034.82M1031.10 405.43H1031.84M1031.10 409.92H1031.80M1031.10 414.40H1032.54M1031.10 418.88H1032.33M1031.10 423.37H1034.82M1031.10 427.86H1031.82M1031.10 432.34H1031.41M1031.10 436.83H1032.50M1031.10 441.31H1036.34M1031.10 445.80H1032.32M1031.10 450.28H1031.86M1031.10 454.76H1039.12M1031.10 459.25H1039.20M1031.10 463.74H1037.25M1031.10 468.22H1033.10M1031.10 472.71H1031.63M1031.10 477.19H1035.19M1031.10 481.68H1031.88M1031.10 486.16H1034.21M1031.10 490.64H1031.63M1031.10 495.13H1034.18M1031.10 499.62H1032.72M1031.10 504.10H1031.50M1031.10 508.59H1031.77M1031.10 513.07H1031.65M1031.10 517.56H1031.50M1031.10 522.04H1032.52M1031.10 526.52H1031.57M1031.10 531.01H1038.83M1031.10 535.50H1031.57M1031.10 544.47H1033.73M1031.10 548.95H1034.77M1031.10 553.44H1031.73M1031.10 557.92H1033.49M1031.10 562.40H1038.24M1031.10 566.89H1034.29M1031.10 571.38H1033.53M1031.10 575.86H1031.94M1031.10 580.35H1032.30M1031.10 584.83H1032.12M1031.10 589.32H1034.05M1031.10 593.80H1031.86M1031.10 598.28H1035.90M1031.10 602.77H1031.83M1031.10 607.25H1031.67M1031.10 611.74H1031.74M1031.10 616.23H1032.00M1031.10 620.71H1033.00M1031.10 625.20H1032.71M1031.10 629.68H1035.05M1031.10 634.17H1031.86M1031.10 638.65H1039.58M1031.10 643.13H1034.81M1031.10 647.62H1031.84M1031.10 652.11H1032.06M1031.10 656.59H1033.00M1031.10 661.08H1031.91M1031.10 665.56H1033.91M1031.10 670.05H1031.81M1031.10 674.53H1031.81" fill="none" stroke="#303030" stroke-width="0.62"/>
<path d="M1047.59 244.01 L1047.59 248.51 L1042.33 252.52 L1054.20 258.15" fill="none" stroke="#333" stroke-width="0.6"/>
<path d="M1054.20 261.91 L1040.08 266.29 L1034.45 271.30 L1033.20 275.68 L1039.70 280.06 L1032.57 284.44 L1035.70 292.58 L1036.95 301.34 L1041.96 305.10 L1033.20 313.86 L1037.58 322.62 L1033.20 327.00 L1031.57 328.88 L1032.57 336.02 L1033.82 337.88 L1031.94 342.26 L1035.07 346.64 L1031.94 351.65 L1032.57 356.66 L1050.72 359.78 L1033.20 364.54 L1034.45 368.80 L1036.33 373.55 L1032.57 377.94 L1036.95 380.44 L1041.08 386.70 L1031.94 391.71 L1033.20 396.09 L1041.33 400.84 L1031.94 406.10 L1033.20 410.48 L1035.07 414.24 L1034.45 419.25 L1041.33 423.25 L1033.20 427.38 L1031.94 432.02 L1035.07 437.01 L1045.71 441.39 L1034.45 445.77 L1033.20 450.15 L1053.22 454.78 L1054.20 458.91 L1050.72 462.67 L1033.20 469.55 L1032.57 472.68 L1042.33 477.07 L1033.20 481.70 L1039.70 486.20 L1032.57 490.59 L1039.70 495.22 L1033.20 502.10 L1031.94 504.61 L1033.20 509.61 L1031.94 517.12 L1035.07 522.13 L1033.20 528.02" fill="none" stroke="#333" stroke-width="0.6"/>
<path d="M1031.57 539.89 L1043.59 548.03 L1033.20 552.04 L1031.94 556.79 L1054.20 561.17 L1040.08 566.18 L1038.83 570.56 L1033.20 574.94 L1034.45 580.58 L1033.20 584.33 L1039.70 588.96 L1033.20 593.72 L1044.46 598.35 L1033.20 601.86 L1032.57 608.12 L1033.20 615.63 L1036.33 620.64 L1033.82 624.02 L1041.96 629.63 L1033.20 634.01 L1042.58 635.52 L1054.20 637.14 L1053.22 639.02 L1035.07 645.28 L1031.94 649.04 L1036.33 656.55 L1032.32 660.30 L1038.83 665.31 L1031.94 670.94 L1035.07 674.07" fill="none" stroke="#333" stroke-width="0.6"/>
<path d="M1072.50 243.97 L1072.63 243.97 L1074.63 248.46 L1072.75 252.94 L1072.63 257.43 L1072.67 261.91 L1072.66 266.39 L1072.72 270.88 L1072.79 275.37 L1072.76 279.85 L1072.63 284.33 L1072.50 288.82 L1072.75 293.31 L1076.38 297.79 L1072.75 302.27 L1072.50 306.76 L1072.50 311.25 L1072.50 315.73 L1072.50 320.22 L1072.50 324.70 L1072.50 329.19 L1072.50 333.67 L1072.50 338.15 L1072.50 342.64 L1072.50 347.12 L1072.50 351.61 L1072.75 356.10 L1079.51 360.58 L1072.63 365.06 L1072.50 369.55 L1072.50 374.03 L1072.50 378.52 L1072.50 383.00 L1072.50 387.49 L1072.50 391.98 L1072.50 396.46 L1072.50 400.95 L1072.50 405.43 L1072.50 409.92 L1072.50 414.40 L1072.50 418.88 L1072.50 423.37 L1072.50 427.86 L1072.50 432.34 L1072.50 436.83 L1072.50 441.31 L1072.88 445.80 L1073.88 450.28 L1072.75 454.76 L1072.50 459.25 L1072.50 463.74 L1072.50 468.22 L1072.50 472.71 L1072.50 477.19 L1072.50 481.68 L1072.50 486.16 L1072.50 490.64 L1072.50 495.13 L1072.50 499.62 L1072.50 504.10 L1072.50 508.59 L1072.50 513.07 L1072.50 517.56 L1072.50 522.04 L1072.50 526.52 L1072.50 531.01 L1072.50 535.50 L1072.50 539.98 L1072.88 544.47 L1073.63 548.95 L1072.63 553.44 L1072.50 557.92 L1072.50 562.40 L1072.50 566.89 L1072.50 571.38 L1072.50 575.86 L1072.50 580.35 L1072.50 584.83 L1072.50 589.32 L1072.50 593.80 L1072.50 598.28 L1072.50 602.77 L1072.50 607.25 L1072.50 611.74 L1072.50 616.23 L1072.50 620.71 L1072.50 625.20 L1072.50 629.68 L1072.50 634.17 L1072.50 638.65 L1072.50 643.13 L1072.50 647.62 L1072.50 652.11 L1072.50 656.59 L1072.50 661.08 L1072.50 665.56 L1072.63 670.05 L1072.88 674.53 L1072.50 674.53Z" fill="#9d9ea0" stroke="none"/>
<path d="M1072.63 243.97 L1074.63 248.46 L1072.75 252.94 L1072.63 257.43M1072.50 243.97V257.43M1072.72 270.88 L1072.79 275.37 L1072.76 279.85 L1072.63 284.33 L1072.50 288.82 L1072.75 293.31 L1076.38 297.79 L1072.75 302.27 L1072.50 306.76M1072.50 270.88V306.76M1072.50 351.61 L1072.75 356.10 L1079.51 360.58 L1072.63 365.06M1072.50 351.61V365.06M1072.50 441.31 L1072.88 445.80 L1073.88 450.28 L1072.75 454.76 L1072.50 459.25M1072.50 441.31V459.25M1072.50 539.98 L1072.88 544.47 L1073.63 548.95 L1072.63 553.44M1072.50 539.98V553.44M1072.63 670.05 L1072.88 674.53M1072.50 670.05V674.53" fill="none" stroke="#303030" stroke-width="0.6" stroke-linejoin="miter"/>
<path d="M1072.50 248.46H1074.63M1072.50 297.79H1076.38M1072.50 360.58H1079.51M1072.50 445.80H1072.88M1072.50 450.28H1073.88M1072.50 544.47H1072.88M1072.50 548.95H1073.63M1072.50 674.53H1072.88" fill="none" stroke="#303030" stroke-width="0.62"/>
<path d="M1072.63 244.38 L1075.76 248.14 L1073.25 251.89 L1072.88 265.04 L1073.38 277.55 L1072.63 287.57" fill="none" stroke="#333" stroke-width="0.6"/>
<path d="M1072.63 293.20 L1085.15 297.58 L1072.63 302.59" fill="none" stroke="#333" stroke-width="0.6"/>
<path d="M1113.10 243.97 L1122.70 243.97 L1120.82 248.46 L1117.07 252.94 L1115.90 257.43 L1114.94 261.91 L1114.35 266.39 L1115.38 270.88 L1113.86 275.37 L1113.42 279.85 L1116.07 284.33 L1113.97 288.82 L1116.32 293.31 L1117.27 297.79 L1115.71 302.27 L1114.54 306.76 L1113.91 311.25 L1113.45 315.73 L1116.59 320.22 L1113.36 324.70 L1113.18 329.19 L1117.82 333.67 L1117.57 338.15 L1117.91 342.64 L1116.97 347.12 L1122.70 351.61 L1114.32 356.10 L1115.72 360.58 L1118.64 365.06 L1117.77 369.55 L1114.52 374.03 L1120.82 378.52 L1113.31 383.00 L1113.19 387.49 L1113.80 391.98 L1115.05 396.46 L1117.05 400.95 L1114.07 405.43 L1113.43 409.92 L1115.78 414.40 L1115.58 418.88 L1113.95 423.37 L1113.86 427.86 L1115.91 432.34 L1114.43 436.83 L1113.77 441.31 L1114.48 445.80 L1114.31 450.28 L1118.30 454.76 L1114.84 459.25 L1113.28 463.74 L1113.40 468.22 L1117.87 472.71 L1114.47 477.19 L1114.02 481.68 L1113.18 486.16 L1113.30 490.64 L1113.40 495.13 L1113.34 499.62 L1113.34 504.10 L1113.39 508.59 L1113.30 513.07 L1113.19 517.56 L1113.28 522.04 L1113.37 526.52 L1113.95 531.01 L1113.41 535.50 L1114.57 539.98 L1115.68 544.47 L1113.38 548.95 L1113.28 553.44 L1113.18 557.92 L1114.76 562.40 L1113.20 566.89 L1113.32 571.38 L1114.19 575.86 L1116.47 580.35 L1113.40 584.83 L1113.40 589.32 L1116.14 593.80 L1115.72 598.28 L1114.17 602.77 L1116.52 607.25 L1115.71 611.74 L1113.61 616.23 L1113.44 620.71 L1113.19 625.20 L1113.19 629.68 L1113.19 634.17 L1113.19 638.65 L1113.19 643.13 L1113.19 647.62 L1113.19 652.11 L1113.44 656.59 L1115.82 661.08 L1113.44 665.56 L1113.19 670.05 L1113.31 674.53 L1113.10 674.53Z" fill="#9d9ea0" stroke="none"/>
<path d="M1122.70 243.97 L1120.82 248.46 L1117.07 252.94 L1115.90 257.43 L1114.94 261.91 L1114.35 266.39 L1115.38 270.88 L1113.86 275.37 L1113.42 279.85 L1116.07 284.33 L1113.97 288.82 L1116.32 293.31 L1117.27 297.79 L1115.71 302.27 L1114.54 306.76 L1113.91 311.25 L1113.45 315.73 L1116.59 320.22 L1113.36 324.70 L1113.18 329.19 L1117.82 333.67 L1117.57 338.15 L1117.91 342.64 L1116.97 347.12 L1122.70 351.61 L1114.32 356.10 L1115.72 360.58 L1118.64 365.06 L1117.77 369.55 L1114.52 374.03 L1120.82 378.52 L1113.31 383.00 L1113.19 387.49 L1113.80 391.98 L1115.05 396.46 L1117.05 400.95 L1114.07 405.43 L1113.43 409.92 L1115.78 414.40 L1115.58 418.88 L1113.95 423.37 L1113.86 427.86 L1115.91 432.34 L1114.43 436.83 L1113.77 441.31 L1114.48 445.80 L1114.31 450.28 L1118.30 454.76 L1114.84 459.25 L1113.28 463.74 L1113.40 468.22 L1117.87 472.71 L1114.47 477.19 L1114.02 481.68 L1113.18 486.16 L1113.30 490.64 L1113.40 495.13 L1113.34 499.62 L1113.34 504.10 L1113.39 508.59 L1113.30 513.07M1113.10 243.97V513.07M1113.28 522.04 L1113.37 526.52 L1113.95 531.01 L1113.41 535.50 L1114.57 539.98 L1115.68 544.47 L1113.38 548.95 L1113.28 553.44 L1113.18 557.92 L1114.76 562.40 L1113.20 566.89 L1113.32 571.38 L1114.19 575.86 L1116.47 580.35 L1113.40 584.83 L1113.40 589.32 L1116.14 593.80 L1115.72 598.28 L1114.17 602.77 L1116.52 607.25 L1115.71 611.74 L1113.61 616.23 L1113.44 620.71 L1113.19 625.20M1113.10 522.04V625.20M1113.19 652.11 L1113.44 656.59 L1115.82 661.08 L1113.44 665.56 L1113.19 670.05M1113.10 652.11V670.05" fill="none" stroke="#303030" stroke-width="0.6" stroke-linejoin="miter"/>
<path d="M1113.10 243.97H1122.70M1113.10 248.46H1120.82M1113.10 252.94H1117.07M1113.10 257.43H1115.90M1113.10 261.91H1114.94M1113.10 266.39H1114.35M1113.10 270.88H1115.38M1113.10 275.37H1113.86M1113.10 279.85H1113.42M1113.10 284.33H1116.07M1113.10 288.82H1113.97M1113.10 293.31H1116.32M1113.10 297.79H1117.27M1113.10 302.27H1115.71M1113.10 306.76H1114.54M1113.10 311.25H1113.91M1113.10 315.73H1113.45M1113.10 320.22H1116.59M1113.10 333.67H1117.82M1113.10 338.15H1117.57M1113.10 342.64H1117.91M1113.10 347.12H1116.97M1113.10 351.61H1122.70M1113.10 356.10H1114.32M1113.10 360.58H1115.72M1113.10 365.06H1118.64M1113.10 369.55H1117.77M1113.10 374.03H1114.52M1113.10 378.52H1120.82M1113.10 391.98H1113.80M1113.10 396.46H1115.05M1113.10 400.95H1117.05M1113.10 405.43H1114.07M1113.10 409.92H1113.43M1113.10 414.40H1115.78M1113.10 418.88H1115.58M1113.10 423.37H1113.95M1113.10 427.86H1113.86M1113.10 432.34H1115.91M1113.10 436.83H1114.43M1113.10 441.31H1113.77M1113.10 445.80H1114.48M1113.10 450.28H1114.31M1113.10 454.76H1118.30M1113.10 459.25H1114.84M1113.10 472.71H1117.87M1113.10 477.19H1114.47M1113.10 481.68H1114.02M1113.10 531.01H1113.95M1113.10 535.50H1113.41M1113.10 539.98H1114.57M1113.10 544.47H1115.68M1113.10 562.40H1114.76M1113.10 575.86H1114.19M1113.10 580.35H1116.47M1113.10 584.83H1113.40M1113.10 589.32H1113.40M1113.10 593.80H1116.14M1113.10 598.28H1115.72M1113.10 602.77H1114.17M1113.10 607.25H1116.52M1113.10 611.74H1115.71M1113.10 616.23H1113.61M1113.10 620.71H1113.44M1113.10 656.59H1113.44M1113.10 661.08H1115.82M1113.10 665.56H1113.44" fill="none" stroke="#303030" stroke-width="0.62"/>
<path d="M1123.70 252.52 L1117.07 263.78 L1116.44 266.91 L1120.20 270.04 L1115.19 275.05 L1113.94 280.06 L1121.45 284.44 L1114.56 288.20 L1116.44 289.45 L1122.70 293.83 L1124.58 297.58 L1117.69 305.10 L1114.56 313.23 L1113.94 316.36 L1122.70 320.12 L1113.94 323.62 L1113.31 328.88 L1126.46 333.26 L1123.95 336.02 L1127.71 341.63 L1120.82 346.64 L1135.85 349.14" fill="none" stroke="#333" stroke-width="0.6"/>
<path d="M1135.85 351.02 L1116.44 356.03 L1115.19 357.91 L1128.33 364.79 L1125.83 369.80 L1115.82 373.55 L1121.45 375.81 L1135.85 376.31" fill="none" stroke="#333" stroke-width="0.6"/>
<path d="M1135.85 378.31 L1113.31 382.94" fill="none" stroke="#333" stroke-width="0.6"/>
<path d="M1113.31 388.58 L1116.44 394.84 L1123.95 400.84 L1114.56 406.10 L1113.94 410.48 L1120.20 413.61 L1121.45 417.37 L1115.19 423.63 L1114.56 427.38 L1120.82 432.02 L1113.94 440.14 L1117.69 444.52 L1114.56 449.53 L1127.46 454.78 L1114.56 460.79 L1113.31 464.55 L1113.94 468.30 L1126.21 472.68 L1115.82 477.69 L1116.44 480.20 L1113.31 485.83 L1113.94 494.59 L1113.69 502.10 L1113.94 509.61 L1113.31 517.12 L1113.94 528.02 L1115.82 531.76 L1113.94 535.51 L1120.20 544.27 L1113.94 548.03 L1113.31 558.04 L1117.69 562.43 L1113.31 566.18 L1113.94 574.32 L1122.70 580.58 L1113.94 584.33 L1113.94 589.34 L1121.45 593.72 L1120.20 598.73 L1114.56 601.86 L1122.70 606.87 L1120.20 611.87 L1114.56 615.63 L1113.69 624.02" fill="none" stroke="#333" stroke-width="0.6"/>
<path d="M1153.80 243.97 L1161.77 243.97 L1157.76 248.46 L1156.76 252.94 L1159.37 257.43 L1159.66 261.91 L1157.39 266.39 L1155.13 270.88 L1157.70 275.37 L1154.42 279.85 L1155.79 284.33 L1155.43 288.82 L1155.72 293.31 L1156.24 297.79 L1155.32 302.27 L1154.44 306.76 L1155.88 311.25 L1154.73 315.73 L1156.93 320.22 L1154.84 324.70 L1154.65 329.19 L1155.13 333.67 L1156.24 338.15 L1155.62 342.64 L1155.06 347.12 L1154.65 351.61 L1160.93 356.10 L1154.55 360.58 L1155.56 365.06 L1154.27 369.55 L1154.88 374.03 L1159.46 378.52 L1158.53 383.00 L1154.19 387.49 L1157.36 391.98 L1155.11 396.46 L1160.54 400.95 L1154.26 405.43 L1154.42 409.92 L1157.15 414.40 L1157.15 418.88 L1155.11 423.37 L1158.27 427.86 L1158.29 432.34 L1156.40 436.83 L1154.65 441.31 L1154.54 445.80 L1154.42 450.28 L1158.05 454.76 L1155.70 459.25 L1155.80 463.74 L1157.22 468.22 L1154.19 472.71 L1156.01 477.19 L1159.89 481.68 L1162.40 486.16 L1161.52 490.64 L1159.27 495.13 L1155.10 499.62 L1157.61 504.10 L1155.80 508.59 L1157.11 513.07 L1156.27 517.56 L1157.35 522.04 L1156.53 526.52 L1155.79 531.01 L1155.11 535.50 L1157.36 539.98 L1155.58 544.47 L1154.61 548.95 L1154.52 553.44 L1154.42 557.92 L1155.24 562.40 L1154.22 566.89 L1154.30 571.38 L1154.38 575.86 L1155.33 580.35 L1156.63 584.83 L1153.98 589.32 L1153.97 593.80 L1153.97 598.28 L1155.78 602.77 L1156.87 607.25 L1157.74 611.74 L1156.85 616.23 L1157.32 620.71 L1158.43 625.20 L1154.88 629.68 L1154.65 634.17 L1156.93 638.65 L1155.68 643.13 L1154.43 647.62 L1156.81 652.11 L1159.20 656.59 L1157.84 661.08 L1158.52 665.56 L1156.98 670.05 L1156.98 674.53 L1153.80 674.53Z" fill="#9d9ea0" stroke="none"/>
<path d="M1161.77 243.97 L1157.76 248.46 L1156.76 252.94 L1159.37 257.43 L1159.66 261.91 L1157.39 266.39 L1155.13 270.88 L1157.70 275.37 L1154.42 279.85 L1155.79 284.33 L1155.43 288.82 L1155.72 293.31 L1156.24 297.79 L1155.32 302.27 L1154.44 306.76 L1155.88 311.25 L1154.73 315.73 L1156.93 320.22 L1154.84 324.70 L1154.65 329.19 L1155.13 333.67 L1156.24 338.15 L1155.62 342.64 L1155.06 347.12 L1154.65 351.61 L1160.93 356.10 L1154.55 360.58 L1155.56 365.06 L1154.27 369.55 L1154.88 374.03 L1159.46 378.52 L1158.53 383.00 L1154.19 387.49 L1157.36 391.98 L1155.11 396.46 L1160.54 400.95 L1154.26 405.43 L1154.42 409.92 L1157.15 414.40 L1157.15 418.88 L1155.11 423.37 L1158.27 427.86 L1158.29 432.34 L1156.40 436.83 L1154.65 441.31 L1154.54 445.80 L1154.42 450.28 L1158.05 454.76 L1155.70 459.25 L1155.80 463.74 L1157.22 468.22 L1154.19 472.71 L1156.01 477.19 L1159.89 481.68 L1162.40 486.16 L1161.52 490.64 L1159.27 495.13 L1155.10 499.62 L1157.61 504.10 L1155.80 508.59 L1157.11 513.07 L1156.27 517.56 L1157.35 522.04 L1156.53 526.52 L1155.79 531.01 L1155.11 535.50 L1157.36 539.98 L1155.58 544.47 L1154.61 548.95 L1154.52 553.44 L1154.42 557.92 L1155.24 562.40 L1154.22 566.89 L1154.30 571.38 L1154.38 575.86 L1155.33 580.35 L1156.63 584.83 L1153.98 589.32M1153.80 243.97V589.32M1153.97 598.28 L1155.78 602.77 L1156.87 607.25 L1157.74 611.74 L1156.85 616.23 L1157.32 620.71 L1158.43 625.20 L1154.88 629.68 L1154.65 634.17 L1156.93 638.65 L1155.68 643.13 L1154.43 647.62 L1156.81 652.11 L1159.20 656.59 L1157.84 661.08 L1158.52 665.56 L1156.98 670.05 L1156.98 674.53M1153.80 598.28V674.53" fill="none" stroke="#303030" stroke-width="0.6" stroke-linejoin="miter"/>
<path d="M1153.80 243.97H1161.77M1153.80 248.46H1157.76M1153.80 252.94H1156.76M1153.80 257.43H1159.37M1153.80 261.91H1159.66M1153.80 266.39H1157.39M1153.80 270.88H1155.13M1153.80 275.37H1157.70M1153.80 279.85H1154.42M1153.80 284.33H1155.79M1153.80 288.82H1155.43M1153.80 293.31H1155.72M1153.80 297.79H1156.24M1153.80 302.27H1155.32M1153.80 306.76H1154.44M1153.80 311.25H1155.88M1153.80 315.73H1154.73M1153.80 320.22H1156.93M1153.80 324.70H1154.84M1153.80 329.19H1154.65M1153.80 333.67H1155.13M1153.80 338.15H1156.24M1153.80 342.64H1155.62M1153.80 347.12H1155.06M1153.80 351.61H1154.65M1153.80 356.10H1160.93M1153.80 360.58H1154.55M1153.80 365.06H1155.56M1153.80 369.55H1154.27M1153.80 374.03H1154.88M1153.80 378.52H1159.46M1153.80 383.00H1158.53M1153.80 387.49H1154.19M1153.80 391.98H1157.36M1153.80 396.46H1155.11M1153.80 400.95H1160.54M1153.80 405.43H1154.26M1153.80 409.92H1154.42M1153.80 414.40H1157.15M1153.80 418.88H1157.15M1153.80 423.37H1155.11M1153.80 427.86H1158.27M1153.80 432.34H1158.29M1153.80 436.83H1156.40M1153.80 441.31H1154.65M1153.80 445.80H1154.54M1153.80 450.28H1154.42M1153.80 454.76H1158.05M1153.80 459.25H1155.70M1153.80 463.74H1155.80M1153.80 468.22H1157.22M1153.80 472.71H1154.19M1153.80 477.19H1156.01M1153.80 481.68H1159.89M1153.80 486.16H1162.40M1153.80 490.64H1161.52M1153.80 495.13H1159.27M1153.80 499.62H1155.10M1153.80 504.10H1157.61M1153.80 508.59H1155.80M1153.80 513.07H1157.11M1153.80 517.56H1156.27M1153.80 522.04H1157.35M1153.80 526.52H1156.53M1153.80 531.01H1155.79M1153.80 535.50H1155.11M1153.80 539.98H1157.36M1153.80 544.47H1155.58M1153.80 548.95H1154.61M1153.80 553.44H1154.52M1153.80 557.92H1154.42M1153.80 562.40H1155.24M1153.80 566.89H1154.22M1153.80 571.38H1154.30M1153.80 575.86H1154.38M1153.80 580.35H1155.33M1153.80 584.83H1156.63M1153.80 602.77H1155.78M1153.80 607.25H1156.87M1153.80 611.74H1157.74M1153.80 616.23H1156.85M1153.80 620.71H1157.32M1153.80 625.20H1158.43M1153.80 629.68H1154.88M1153.80 634.17H1154.65M1153.80 638.65H1156.93M1153.80 643.13H1155.68M1153.80 647.62H1154.43M1153.80 652.11H1156.81M1153.80 656.59H1159.20M1153.80 661.08H1157.84M1153.80 665.56H1158.52M1153.80 670.05H1156.98M1153.80 674.53H1156.98" fill="none" stroke="#303030" stroke-width="0.62"/>
<path d="M1169.53 248.51 L1160.27 251.89 L1169.28 257.53 L1169.91 261.91 L1157.39 270.92 L1164.52 275.05 L1155.51 279.81 L1159.52 283.19 L1158.01 290.07 L1160.52 297.58 L1155.51 306.85 L1159.52 311.23 L1155.51 315.11 L1162.40 320.12 L1156.14 325.12 L1156.14 330.13 L1158.33 336.02 L1160.52 337.88 L1157.39 346.64 L1156.14 351.65 L1176.54 355.40 L1155.51 360.04 L1158.64 365.04 L1154.89 369.80 L1157.39 375.43 L1169.53 378.56 L1166.78 383.07 L1154.89 387.45 L1164.27 392.33 L1157.39 396.46 L1172.41 400.97 L1154.89 405.48 L1155.51 409.98 L1163.02 414.36 L1163.02 418.87 L1157.39 423.38 L1166.15 427.88 L1166.15 432.02 L1156.14 441.26 L1155.51 450.28 L1165.53 454.78 L1156.76 460.79 L1163.27 468.30 L1154.89 472.68 L1159.89 477.19 L1170.53 480.20 L1176.54 483.33" fill="none" stroke="#333" stroke-width="0.6"/>
<path d="M1176.54 492.46 L1171.16 495.84 L1157.39 499.60 L1164.27 504.11 L1159.27 508.61 L1163.65 513.99 L1159.89 518.38 L1163.65 522.13 L1160.52 528.02 L1157.39 535.51 L1163.65 540.02 L1156.14 546.78 L1155.51 558.04 L1157.76 562.43 L1154.89 565.55 L1155.51 578.07 L1162.40 584.33 L1154.26 589.34 L1154.26 598.10 L1158.64 601.86 L1164.90 611.25 L1161.14 618.13 L1166.46 624.02 L1166.53 625.25 L1156.76 629.63 L1156.14 634.14 L1162.40 638.65 L1155.51 647.66 L1168.66 656.55 L1164.90 661.05 L1166.78 665.56 L1160.52 672.20 L1154.26 674.07" fill="none" stroke="#333" stroke-width="0.6"/>
<path d="M1194.60 243.97 L1211.59 243.97 L1211.59 248.46 L1210.59 252.94 L1213.72 257.43 L1209.97 261.91 L1208.09 266.39 L1206.59 270.88 L1205.83 275.37 L1205.58 279.85 L1199.95 284.33 L1202.45 288.82 L1209.97 293.31 L1204.33 297.79 L1205.83 302.27 L1212.47 306.76 L1207.84 311.25 L1212.47 315.73 L1207.84 320.22 L1209.97 324.70 L1220.86 329.19 L1213.72 333.67 L1213.10 338.15 L1211.84 342.64 L1211.22 347.12 L1210.59 351.61 L1211.22 356.10 L1208.09 360.58 L1209.34 365.06 L1212.47 369.55 L1214.97 374.03 L1209.34 378.52 L1204.96 383.00 L1206.21 387.49 L1213.72 391.98 L1209.34 396.46 L1208.09 400.95 L1208.71 405.43 L1205.58 409.92 L1211.59 414.40 L1211.22 418.88 L1209.34 423.37 L1209.34 427.86 L1214.10 432.34 L1214.97 436.83 L1212.47 441.31 L1208.09 445.80 L1213.72 450.28 L1212.47 454.76 L1208.09 459.25 L1214.97 463.74 L1207.46 468.22 L1204.96 472.71 L1209.09 477.19 L1199.95 481.68 L1213.10 486.16 L1213.72 490.64 L1224.36 495.13 L1211.84 499.62 L1218.73 504.10 L1208.09 508.59 L1209.34 513.07 L1210.59 517.56 L1212.84 522.04 L1209.34 526.52 L1214.97 531.01 L1206.21 535.50 L1209.97 539.98 L1211.59 544.47 L1204.96 548.95 L1205.58 553.44 L1205.83 557.92 L1209.09 562.40 L1205.58 566.89 L1205.83 571.38 L1206.21 575.86 L1212.84 580.35 L1210.59 584.83 L1202.45 589.32 L1214.97 593.80 L1208.71 598.28 L1209.97 602.77 L1209.34 607.25 L1205.83 611.74 L1209.34 616.23 L1210.59 620.71 L1209.97 625.20 L1208.71 629.68 L1203.08 634.17 L1209.09 638.65 L1208.09 643.13 L1201.20 647.62 L1206.59 652.11 L1202.45 656.59 L1201.83 661.08 L1206.21 665.56 L1209.09 670.05 L1203.71 674.53 L1194.60 674.53Z" fill="#9d9ea0" stroke="none"/>
<path d="M1211.59 243.97 L1211.59 248.46 L1210.59 252.94 L1213.72 257.43 L1209.97 261.91 L1208.09 266.39 L1206.59 270.88 L1205.83 275.37 L1205.58 279.85 L1199.95 284.33 L1202.45 288.82 L1209.97 293.31 L1204.33 297.79 L1205.83 302.27 L1212.47 306.76 L1207.84 311.25 L1212.47 315.73 L1207.84 320.22 L1209.97 324.70 L1220.86 329.19 L1213.72 333.67 L1213.10 338.15 L1211.84 342.64 L1211.22 347.12 L1210.59 351.61 L1211.22 356.10 L1208.09 360.58 L1209.34 365.06 L1212.47 369.55 L1214.97 374.03 L1209.34 378.52 L1204.96 383.00 L1206.21 387.49 L1213.72 391.98 L1209.34 396.46 L1208.09 400.95 L1208.71 405.43 L1205.58 409.92 L1211.59 414.40 L1211.22 418.88 L1209.34 423.37 L1209.34 427.86 L1214.10 432.34 L1214.97 436.83 L1212.47 441.31 L1208.09 445.80 L1213.72 450.28 L1212.47 454.76 L1208.09 459.25 L1214.97 463.74 L1207.46 468.22 L1204.96 472.71 L1209.09 477.19 L1199.95 481.68 L1213.10 486.16 L1213.72 490.64 L1224.36 495.13 L1211.84 499.62 L1218.73 504.10 L1208.09 508.59 L1209.34 513.07 L1210.59 517.56 L1212.84 522.04 L1209.34 526.52 L1214.97 531.01 L1206.21 535.50 L1209.97 539.98 L1211.59 544.47 L1204.96 548.95 L1205.58 553.44 L1205.83 557.92 L1209.09 562.40 L1205.58 566.89 L1205.83 571.38 L1206.21 575.86 L1212.84 580.35 L1210.59 584.83 L1202.45 589.32 L1214.97 593.80 L1208.71 598.28 L1209.97 602.77 L1209.34 607.25 L1205.83 611.74 L1209.34 616.23 L1210.59 620.71 L1209.97 625.20 L1208.71 629.68 L1203.08 634.17 L1209.09 638.65 L1208.09 643.13 L1201.20 647.62 L1206.59 652.11 L1202.45 656.59 L1201.83 661.08 L1206.21 665.56 L1209.09 670.05 L1203.71 674.53M1194.60 243.97V674.53" fill="none" stroke="#303030" stroke-width="0.6" stroke-linejoin="miter"/>
<path d="M1194.60 243.97H1211.59M1194.60 248.46H1211.59M1194.60 252.94H1210.59M1194.60 257.43H1213.72M1194.60 261.91H1209.97M1194.60 266.39H1208.09M1194.60 270.88H1206.59M1194.60 275.37H1205.83M1194.60 279.85H1205.58M1194.60 284.33H1199.95M1194.60 288.82H1202.45M1194.60 293.31H1209.97M1194.60 297.79H1204.33M1194.60 302.27H1205.83M1194.60 306.76H1212.47M1194.60 311.25H1207.84M1194.60 315.73H1212.47M1194.60 320.22H1207.84M1194.60 324.70H1209.97M1194.60 329.19H1220.86M1194.60 333.67H1213.72M1194.60 338.15H1213.10M1194.60 342.64H1211.84M1194.60 347.12H1211.22M1194.60 351.61H1210.59M1194.60 356.10H1211.22M1194.60 360.58H1208.09M1194.60 365.06H1209.34M1194.60 369.55H1212.47M1194.60 374.03H1214.97M1194.60 378.52H1209.34M1194.60 383.00H1204.96M1194.60 387.49H1206.21M1194.60 391.98H1213.72M1194.60 396.46H1209.34M1194.60 400.95H1208.09M1194.60 405.43H1208.71M1194.60 409.92H1205.58M1194.60 414.40H1211.59M1194.60 418.88H1211.22M1194.60 423.37H1209.34M1194.60 427.86H1209.34M1194.60 432.34H1214.10M1194.60 436.83H1214.97M1194.60 441.31H1212.47M1194.60 445.80H1208.09M1194.60 450.28H1213.72M1194.60 454.76H1212.47M1194.60 459.25H1208.09M1194.60 463.74H1214.97M1194.60 468.22H1207.46M1194.60 472.71H1204.96M1194.60 477.19H1209.09M1194.60 481.68H1199.95M1194.60 486.16H1213.10M1194.60 490.64H1213.72M1194.60 495.13H1224.36M1194.60 499.62H1211.84M1194.60 504.10H1218.73M1194.60 508.59H1208.09M1194.60 513.07H1209.34M1194.60 517.56H1210.59M1194.60 522.04H1212.84M1194.60 526.52H1209.34M1194.60 531.01H1214.97M1194.60 535.50H1206.21M1194.60 539.98H1209.97M1194.60 544.47H1211.59M1194.60 548.95H1204.96M1194.60 553.44H1205.58M1194.60 557.92H1205.83M1194.60 562.40H1209.09M1194.60 566.89H1205.58M1194.60 571.38H1205.83M1194.60 575.86H1206.21M1194.60 580.35H1212.84M1194.60 584.83H1210.59M1194.60 589.32H1202.45M1194.60 593.80H1214.97M1194.60 598.28H1208.71M1194.60 602.77H1209.97M1194.60 607.25H1209.34M1194.60 611.74H1205.83M1194.60 616.23H1209.34M1194.60 620.71H1210.59M1194.60 625.20H1209.97M1194.60 629.68H1208.71M1194.60 634.17H1203.08M1194.60 638.65H1209.09M1194.60 643.13H1208.09M1194.60 647.62H1201.20M1194.60 652.11H1206.59M1194.60 656.59H1202.45M1194.60 661.08H1201.83M1194.60 665.56H1206.21M1194.60 670.05H1209.09M1194.60 674.53H1203.71" fill="none" stroke="#303030" stroke-width="0.62"/>
<path d="M1258.30 243.97 L1266.30 243.97 L1261.92 248.46 L1261.29 252.94 L1265.05 257.43 L1270.05 261.91 L1261.29 266.39 L1261.29 270.88 L1262.54 275.37 L1260.66 279.85 L1261.29 284.33 L1262.54 288.82 L1263.17 293.31 L1262.54 297.79 L1263.17 302.27 L1268.80 306.76 L1262.54 311.25 L1262.54 315.73 L1262.54 320.22 L1265.67 324.70 L1266.92 329.19 L1263.17 333.67 L1261.92 338.15 L1263.79 342.64 L1265.05 347.12 L1265.92 351.61 L1265.67 356.10 L1265.42 360.58 L1262.54 365.06 L1264.42 369.55 L1265.67 374.03 L1261.92 378.52 L1260.04 383.00 L1260.66 387.49 L1259.41 391.98 L1261.29 396.46 L1264.17 400.95 L1260.66 405.43 L1260.04 409.92 L1263.17 414.40 L1265.67 418.88 L1261.92 423.37 L1263.17 427.86 L1264.42 432.34 L1261.29 436.83 L1263.79 441.31 L1263.79 445.80 L1265.67 450.28 L1263.17 454.76 L1265.05 459.25 L1261.92 463.74 L1260.66 468.22 L1261.92 472.71 L1262.54 477.19 L1260.66 481.68 L1265.05 486.16 L1263.79 490.64 L1261.92 495.13 L1260.66 499.62 L1262.54 504.10 L1265.05 508.59 L1263.79 513.07 L1266.67 517.56 L1265.05 522.04 L1261.92 526.52 L1261.92 531.01 L1266.92 535.50 L1267.55 539.98 L1263.79 544.47 L1258.79 548.95 L1261.92 553.44 L1262.54 557.92 L1261.92 562.40 L1262.54 566.89 L1260.66 571.38 L1260.41 575.86 L1260.66 580.35 L1264.42 584.83 L1265.05 589.32 L1266.67 593.80 L1266.30 598.28 L1263.79 602.77 L1261.92 607.25 L1260.04 611.74 L1261.92 616.23 L1264.42 620.71 L1265.67 625.20 L1264.42 629.68 L1264.42 634.17 L1263.79 638.65 L1266.67 643.13 L1263.17 647.62 L1263.79 652.11 L1262.54 656.59 L1262.54 661.08 L1260.04 665.56 L1261.29 670.05 L1265.67 674.53 L1258.30 674.53Z" fill="#9d9ea0" stroke="none"/>
<path d="M1266.30 243.97 L1261.92 248.46 L1261.29 252.94 L1265.05 257.43 L1270.05 261.91 L1261.29 266.39 L1261.29 270.88 L1262.54 275.37 L1260.66 279.85 L1261.29 284.33 L1262.54 288.82 L1263.17 293.31 L1262.54 297.79 L1263.17 302.27 L1268.80 306.76 L1262.54 311.25 L1262.54 315.73 L1262.54 320.22 L1265.67 324.70 L1266.92 329.19 L1263.17 333.67 L1261.92 338.15 L1263.79 342.64 L1265.05 347.12 L1265.92 351.61 L1265.67 356.10 L1265.42 360.58 L1262.54 365.06 L1264.42 369.55 L1265.67 374.03 L1261.92 378.52 L1260.04 383.00 L1260.66 387.49 L1259.41 391.98 L1261.29 396.46 L1264.17 400.95 L1260.66 405.43 L1260.04 409.92 L1263.17 414.40 L1265.67 418.88 L1261.92 423.37 L1263.17 427.86 L1264.42 432.34 L1261.29 436.83 L1263.79 441.31 L1263.79 445.80 L1265.67 450.28 L1263.17 454.76 L1265.05 459.25 L1261.92 463.74 L1260.66 468.22 L1261.92 472.71 L1262.54 477.19 L1260.66 481.68 L1265.05 486.16 L1263.79 490.64 L1261.92 495.13 L1260.66 499.62 L1262.54 504.10 L1265.05 508.59 L1263.79 513.07 L1266.67 517.56 L1265.05 522.04 L1261.92 526.52 L1261.92 531.01 L1266.92 535.50 L1267.55 539.98 L1263.79 544.47 L1258.79 548.95 L1261.92 553.44 L1262.54 557.92 L1261.92 562.40 L1262.54 566.89 L1260.66 571.38 L1260.41 575.86 L1260.66 580.35 L1264.42 584.83 L1265.05 589.32 L1266.67 593.80 L1266.30 598.28 L1263.79 602.77 L1261.92 607.25 L1260.04 611.74 L1261.92 616.23 L1264.42 620.71 L1265.67 625.20 L1264.42 629.68 L1264.42 634.17 L1263.79 638.65 L1266.67 643.13 L1263.17 647.62 L1263.79 652.11 L1262.54 656.59 L1262.54 661.08 L1260.04 665.56 L1261.29 670.05 L1265.67 674.53M1258.30 243.97V674.53" fill="none" stroke="#303030" stroke-width="0.6" stroke-linejoin="miter"/>
<path d="M1258.30 243.97H1266.30M1258.30 248.46H1261.92M1258.30 252.94H1261.29M1258.30 257.43H1265.05M1258.30 261.91H1270.05M1258.30 266.39H1261.29M1258.30 270.88H1261.29M1258.30 275.37H1262.54M1258.30 279.85H1260.66M1258.30 284.33H1261.29M1258.30 288.82H1262.54M1258.30 293.31H1263.17M1258.30 297.79H1262.54M1258.30 302.27H1263.17M1258.30 306.76H1268.80M1258.30 311.25H1262.54M1258.30 315.73H1262.54M1258.30 320.22H1262.54M1258.30 324.70H1265.67M1258.30 329.19H1266.92M1258.30 333.67H1263.17M1258.30 338.15H1261.92M1258.30 342.64H1263.79M1258.30 347.12H1265.05M1258.30 351.61H1265.92M1258.30 356.10H1265.67M1258.30 360.58H1265.42M1258.30 365.06H1262.54M1258.30 369.55H1264.42M1258.30 374.03H1265.67M1258.30 378.52H1261.92M1258.30 383.00H1260.04M1258.30 387.49H1260.66M1258.30 391.98H1259.41M1258.30 396.46H1261.29M1258.30 400.95H1264.17M1258.30 405.43H1260.66M1258.30 409.92H1260.04M1258.30 414.40H1263.17M1258.30 418.88H1265.67M1258.30 423.37H1261.92M1258.30 427.86H1263.17M1258.30 432.34H1264.42M1258.30 436.83H1261.29M1258.30 441.31H1263.79M1258.30 445.80H1263.79M1258.30 450.28H1265.67M1258.30 454.76H1263.17M1258.30 459.25H1265.05M1258.30 463.74H1261.92M1258.30 468.22H1260.66M1258.30 472.71H1261.92M1258.30 477.19H1262.54M1258.30 481.68H1260.66M1258.30 486.16H1265.05M1258.30 490.64H1263.79M1258.30 495.13H1261.92M1258.30 499.62H1260.66M1258.30 504.10H1262.54M1258.30 508.59H1265.05M1258.30 513.07H1263.79M1258.30 517.56H1266.67M1258.30 522.04H1265.05M1258.30 526.52H1261.92M1258.30 531.01H1261.92M1258.30 535.50H1266.92M1258.30 539.98H1267.55M1258.30 544.47H1263.79M1258.30 548.95H1258.79M1258.30 553.44H1261.92M1258.30 557.92H1262.54M1258.30 562.40H1261.92M1258.30 566.89H1262.54M1258.30 571.38H1260.66M1258.30 575.86H1260.41M1258.30 580.35H1260.66M1258.30 584.83H1264.42M1258.30 589.32H1265.05M1258.30 593.80H1266.67M1258.30 598.28H1266.30M1258.30 602.77H1263.79M1258.30 607.25H1261.92M1258.30 611.74H1260.04M1258.30 616.23H1261.92M1258.30 620.71H1264.42M1258.30 625.20H1265.67M1258.30 629.68H1264.42M1258.30 634.17H1264.42M1258.30 638.65H1263.79M1258.30 643.13H1266.67M1258.30 647.62H1263.17M1258.30 652.11H1263.79M1258.30 656.59H1262.54M1258.30 661.08H1262.54M1258.30 665.56H1260.04M1258.30 670.05H1261.29M1258.30 674.53H1265.67" fill="none" stroke="#303030" stroke-width="0.62"/>
<path d="M1270.43 248.51 L1270.68 251.89 L1280.94 256.90" fill="none" stroke="#333" stroke-width="0.6"/>
<path d="M1280.94 263.16 L1270.05 266.41 L1266.30 270.04 L1273.81 275.05 L1261.29 283.81 L1273.18 293.20 L1271.31 302.34 L1280.94 302.34" fill="none" stroke="#333" stroke-width="0.6"/>
<path d="M1280.94 307.35 L1271.93 311.23 L1269.18 320.12 L1280.94 325.75" fill="none" stroke="#333" stroke-width="0.6"/>
<path d="M1280.94 329.13 L1271.31 333.76 L1271.31 336.02 L1270.68 339.13 L1277.56 346.64 L1280.69 355.40 L1278.82 360.04 L1268.18 365.04 L1278.82 373.55 L1263.17 383.07 L1266.30 387.45 L1260.66 392.96 L1276.31 400.97 L1265.67 408.61 L1280.69 418.62 L1268.18 423.63 L1276.50 432.02 L1265.67 436.88 L1276.31 441.26 L1271.93 444.52 L1279.44 450.28 L1270.68 454.78 L1279.44 459.29 L1271.93 463.80 L1266.30 472.68 L1272.56 477.19 L1266.92 481.70 L1279.44 486.20 L1271.93 490.21 L1271.31 495.22 L1264.42 499.60 L1279.44 508.61 L1273.18 513.99 L1280.94 514.62" fill="none" stroke="#333" stroke-width="0.6"/>
<path d="M1280.94 518.38 L1268.18 528.02 L1268.80 531.13 L1280.94 533.63" fill="none" stroke="#333" stroke-width="0.6"/>
<path d="M1280.94 541.14 L1262.54 548.03 L1273.81 558.04 L1269.43 564.30 L1271.31 566.93 L1265.67 580.33 L1275.69 584.33 L1277.56 588.71 L1280.94 590.22" fill="none" stroke="#333" stroke-width="0.6"/>
<path d="M1280.94 599.35 L1264.42 611.75 L1279.32 624.02 L1279.19 625.50 L1271.31 629.63 L1274.43 634.14 L1275.06 637.77 L1280.94 640.27" fill="none" stroke="#333" stroke-width="0.6"/>
<path d="M1280.94 642.15 L1268.18 647.66 L1276.94 652.54 L1270.68 656.55 L1271.31 660.30 L1263.17 666.56 L1265.67 670.32 L1278.82 674.57" fill="none" stroke="#333" stroke-width="0.6"/>
<line x1="111.50" y1="242.40" x2="1339.50" y2="242.40" stroke="#8a8a8a" stroke-width="1"/>
<line x1="111.50" y1="696.10" x2="1339.50" y2="696.10" stroke="#b4b4b4" stroke-width="1.6"/>
<line x1="111.50" y1="242.40" x2="111.50" y2="696.10" stroke="#5a5a5a" stroke-width="0.75"/>
<line x1="265.30" y1="242.40" x2="265.30" y2="696.10" stroke="#5a5a5a" stroke-width="0.75"/>
<line x1="420.10" y1="242.40" x2="420.10" y2="696.10" stroke="#5a5a5a" stroke-width="0.75"/>
<line x1="529.20" y1="242.40" x2="529.20" y2="696.10" stroke="#5a5a5a" stroke-width="0.75"/>
<line x1="615.30" y1="242.40" x2="615.30" y2="696.10" stroke="#5a5a5a" stroke-width="0.75"/>
<line x1="677.60" y1="242.40" x2="677.60" y2="696.10" stroke="#5a5a5a" stroke-width="0.75"/>
<line x1="741.50" y1="242.40" x2="741.50" y2="696.10" stroke="#5a5a5a" stroke-width="0.75"/>
<line x1="827.40" y1="242.40" x2="827.40" y2="696.10" stroke="#5a5a5a" stroke-width="0.75"/>
<line x1="868.30" y1="242.40" x2="868.30" y2="696.10" stroke="#5a5a5a" stroke-width="0.75"/>
<line x1="909.10" y1="242.40" x2="909.10" y2="696.10" stroke="#5a5a5a" stroke-width="0.75"/>
<line x1="949.80" y1="242.40" x2="949.80" y2="696.10" stroke="#5a5a5a" stroke-width="0.75"/>
<line x1="990.40" y1="242.40" x2="990.40" y2="696.10" stroke="#5a5a5a" stroke-width="0.75"/>
<line x1="1031.10" y1="242.40" x2="1031.10" y2="696.10" stroke="#5a5a5a" stroke-width="0.75"/>
<line x1="1072.50" y1="242.40" x2="1072.50" y2="696.10" stroke="#5a5a5a" stroke-width="0.75"/>
<line x1="1113.10" y1="242.40" x2="1113.10" y2="696.10" stroke="#5a5a5a" stroke-width="0.75"/>
<line x1="1153.80" y1="242.40" x2="1153.80" y2="696.10" stroke="#5a5a5a" stroke-width="0.75"/>
<line x1="1194.60" y1="242.40" x2="1194.60" y2="696.10" stroke="#5a5a5a" stroke-width="0.75"/>
<line x1="1258.30" y1="242.40" x2="1258.30" y2="696.10" stroke="#5a5a5a" stroke-width="0.75"/>
<line x1="1294.3" y1="242.40" x2="1294.3" y2="696.10" stroke="#555" stroke-width="0.8"/>
<line x1="1339.50" y1="242.40" x2="1339.50" y2="696.10" stroke="#6a6a6a" stroke-width="0.8"/>
<path d="M111.50 240.30H247.82M111.50 240.80V232.30M134.22 240.80V234.80M156.94 240.80V232.30M179.66 240.80V234.80M202.38 240.80V232.30M225.10 240.80V234.80M247.82 240.80V232.30" fill="none" stroke="#4a4a4a" stroke-width="1.1"/>
<path d="M111.50 700.50H247.82M111.50 700.00V709.70M134.22 700.00V707.10M156.94 700.00V709.70M179.66 700.00V707.10M202.38 700.00V709.70M225.10 700.00V707.10M247.82 700.00V709.70" fill="none" stroke="#4a4a4a" stroke-width="1.1"/>
<text transform="translate(157.24 731.2) scale(1.045 1)" font-size="16.2" text-anchor="middle" fill="#222">20</text>
<text transform="translate(202.68 731.2) scale(1.045 1)" font-size="16.2" text-anchor="middle" fill="#222">40</text>
<text transform="translate(248.12 731.2) scale(1.045 1)" font-size="16.2" text-anchor="middle" fill="#222">60</text>
<path d="M265.30 240.30H401.62M265.30 240.80V232.30M288.02 240.80V234.80M310.74 240.80V232.30M333.46 240.80V234.80M356.18 240.80V232.30M378.90 240.80V234.80M401.62 240.80V232.30" fill="none" stroke="#4a4a4a" stroke-width="1.1"/>
<path d="M265.30 700.50H401.62M265.30 700.00V709.70M288.02 700.00V707.10M310.74 700.00V709.70M333.46 700.00V707.10M356.18 700.00V709.70M378.90 700.00V707.10M401.62 700.00V709.70" fill="none" stroke="#4a4a4a" stroke-width="1.1"/>
<text transform="translate(311.04 731.2) scale(1.045 1)" font-size="16.2" text-anchor="middle" fill="#222">20</text>
<text transform="translate(356.48 731.2) scale(1.045 1)" font-size="16.2" text-anchor="middle" fill="#222">40</text>
<text transform="translate(401.92 731.2) scale(1.045 1)" font-size="16.2" text-anchor="middle" fill="#222">60</text>
<path d="M420.10 240.30H510.98M420.10 240.80V232.30M442.82 240.80V234.80M465.54 240.80V232.30M488.26 240.80V234.80M510.98 240.80V232.30" fill="none" stroke="#4a4a4a" stroke-width="1.1"/>
<path d="M420.10 700.50H510.98M420.10 700.00V709.70M442.82 700.00V707.10M465.54 700.00V709.70M488.26 700.00V707.10M510.98 700.00V709.70" fill="none" stroke="#4a4a4a" stroke-width="1.1"/>
<text transform="translate(465.84 731.2) scale(1.045 1)" font-size="16.2" text-anchor="middle" fill="#222">20</text>
<text transform="translate(511.28 731.2) scale(1.045 1)" font-size="16.2" text-anchor="middle" fill="#222">40</text>
<path d="M529.20 240.30H597.36M529.20 240.80V232.30M551.92 240.80V234.80M574.64 240.80V232.30" fill="none" stroke="#4a4a4a" stroke-width="1.1"/>
<path d="M529.20 700.50H597.36M529.20 700.00V709.70M551.92 700.00V707.10M574.64 700.00V709.70" fill="none" stroke="#4a4a4a" stroke-width="1.1"/>
<text transform="translate(574.94 731.2) scale(1.045 1)" font-size="16.2" text-anchor="middle" fill="#222">20</text>
<path d="M615.30 240.30H660.74M615.30 240.80V232.30M638.02 240.80V234.80M660.74 240.80V232.30" fill="none" stroke="#4a4a4a" stroke-width="1.1"/>
<path d="M615.30 700.50H660.74M615.30 700.00V709.70M638.02 700.00V707.10M660.74 700.00V709.70" fill="none" stroke="#4a4a4a" stroke-width="1.1"/>
<text transform="translate(661.04 731.2) scale(1.045 1)" font-size="16.2" text-anchor="middle" fill="#222">20</text>
<path d="M677.60 240.30H723.04M677.60 240.80V232.30M700.32 240.80V234.80M723.04 240.80V232.30" fill="none" stroke="#4a4a4a" stroke-width="1.1"/>
<path d="M677.60 700.50H723.04M677.60 700.00V709.70M700.32 700.00V707.10M723.04 700.00V709.70" fill="none" stroke="#4a4a4a" stroke-width="1.1"/>
<text transform="translate(723.34 731.2) scale(1.045 1)" font-size="16.2" text-anchor="middle" fill="#222">20</text>
<path d="M741.50 240.30H809.66M741.50 240.80V232.30M764.22 240.80V234.80M786.94 240.80V232.30" fill="none" stroke="#4a4a4a" stroke-width="1.1"/>
<path d="M741.50 700.50H809.66M741.50 700.00V709.70M764.22 700.00V707.10M786.94 700.00V709.70" fill="none" stroke="#4a4a4a" stroke-width="1.1"/>
<text transform="translate(787.24 731.2) scale(1.045 1)" font-size="16.2" text-anchor="middle" fill="#222">20</text>
<path d="M827.40 240.30H850.12M827.40 240.80V232.30M850.12 240.80V232.30" fill="none" stroke="#4a4a4a" stroke-width="1.1"/>
<path d="M827.40 700.50H850.12M827.40 700.00V709.70M850.12 700.00V709.70" fill="none" stroke="#4a4a4a" stroke-width="1.1"/>
<text transform="translate(850.42 731.2) scale(1.045 1)" font-size="16.2" text-anchor="middle" fill="#222">10</text>
<path d="M868.30 240.30H891.02M868.30 240.80V232.30M891.02 240.80V232.30" fill="none" stroke="#4a4a4a" stroke-width="1.1"/>
<path d="M868.30 700.50H891.02M868.30 700.00V709.70M891.02 700.00V709.70" fill="none" stroke="#4a4a4a" stroke-width="1.1"/>
<text transform="translate(891.32 731.2) scale(1.045 1)" font-size="16.2" text-anchor="middle" fill="#222">10</text>
<path d="M909.10 240.30H931.82M909.10 240.80V232.30M931.82 240.80V232.30" fill="none" stroke="#4a4a4a" stroke-width="1.1"/>
<path d="M909.10 700.50H931.82M909.10 700.00V709.70M931.82 700.00V709.70" fill="none" stroke="#4a4a4a" stroke-width="1.1"/>
<text transform="translate(932.12 731.2) scale(1.045 1)" font-size="16.2" text-anchor="middle" fill="#222">10</text>
<path d="M949.80 240.30H972.52M949.80 240.80V232.30M972.52 240.80V232.30" fill="none" stroke="#4a4a4a" stroke-width="1.1"/>
<path d="M949.80 700.50H972.52M949.80 700.00V709.70M972.52 700.00V709.70" fill="none" stroke="#4a4a4a" stroke-width="1.1"/>
<text transform="translate(972.82 731.2) scale(1.045 1)" font-size="16.2" text-anchor="middle" fill="#222">10</text>
<path d="M990.40 240.30H1013.12M990.40 240.80V232.30M1013.12 240.80V232.30" fill="none" stroke="#4a4a4a" stroke-width="1.1"/>
<path d="M990.40 700.50H1013.12M990.40 700.00V709.70M1013.12 700.00V709.70" fill="none" stroke="#4a4a4a" stroke-width="1.1"/>
<text transform="translate(1013.42 731.2) scale(1.045 1)" font-size="16.2" text-anchor="middle" fill="#222">10</text>
<path d="M1031.10 240.30H1053.82M1031.10 240.80V232.30M1053.82 240.80V232.30" fill="none" stroke="#4a4a4a" stroke-width="1.1"/>
<path d="M1031.10 700.50H1053.82M1031.10 700.00V709.70M1053.82 700.00V709.70" fill="none" stroke="#4a4a4a" stroke-width="1.1"/>
<text transform="translate(1054.12 731.2) scale(1.045 1)" font-size="16.2" text-anchor="middle" fill="#222">10</text>
<path d="M1072.50 240.30H1095.22M1072.50 240.80V232.30M1095.22 240.80V232.30" fill="none" stroke="#4a4a4a" stroke-width="1.1"/>
<path d="M1072.50 700.50H1095.22M1072.50 700.00V709.70M1095.22 700.00V709.70" fill="none" stroke="#4a4a4a" stroke-width="1.1"/>
<text transform="translate(1095.52 731.2) scale(1.045 1)" font-size="16.2" text-anchor="middle" fill="#222">10</text>
<path d="M1113.10 240.30H1135.82M1113.10 240.80V232.30M1135.82 240.80V232.30" fill="none" stroke="#4a4a4a" stroke-width="1.1"/>
<path d="M1113.10 700.50H1135.82M1113.10 700.00V709.70M1135.82 700.00V709.70" fill="none" stroke="#4a4a4a" stroke-width="1.1"/>
<text transform="translate(1136.12 731.2) scale(1.045 1)" font-size="16.2" text-anchor="middle" fill="#222">10</text>
<path d="M1153.80 240.30H1176.52M1153.80 240.80V232.30M1176.52 240.80V232.30" fill="none" stroke="#4a4a4a" stroke-width="1.1"/>
<path d="M1153.80 700.50H1176.52M1153.80 700.00V709.70M1176.52 700.00V709.70" fill="none" stroke="#4a4a4a" stroke-width="1.1"/>
<text transform="translate(1176.82 731.2) scale(1.045 1)" font-size="16.2" text-anchor="middle" fill="#222">10</text>
<path d="M1194.60 240.30H1240.04M1194.60 240.80V232.30M1217.32 240.80V234.80M1240.04 240.80V232.30" fill="none" stroke="#4a4a4a" stroke-width="1.1"/>
<path d="M1194.60 700.50H1240.04M1194.60 700.00V709.70M1217.32 700.00V707.10M1240.04 700.00V709.70" fill="none" stroke="#4a4a4a" stroke-width="1.1"/>
<text transform="translate(1240.34 731.2) scale(1.045 1)" font-size="16.2" text-anchor="middle" fill="#222">20</text>
<path d="M1258.30 240.30H1281.02M1258.30 240.80V232.30M1281.02 240.80V232.30" fill="none" stroke="#4a4a4a" stroke-width="1.1"/>
<path d="M1258.30 700.50H1281.02M1258.30 700.00V709.70M1281.02 700.00V709.70" fill="none" stroke="#4a4a4a" stroke-width="1.1"/>
<text transform="translate(1281.32 731.2) scale(1.045 1)" font-size="16.2" text-anchor="middle" fill="#222">10</text>
<path d="M88.5 243.3V697.60M88.9 248.40H81.3M88.9 270.84H84.3M88.9 293.27H81.3M88.9 315.71H84.3M88.9 338.14H81.3M88.9 360.57H84.3M88.9 383.01H81.3M88.9 405.45H84.3M88.9 427.88H81.3M88.9 450.32H84.3M88.9 472.75H81.3M88.9 495.19H84.3M88.9 517.62H81.3M88.9 540.06H84.3M88.9 562.49H81.3M88.9 584.93H84.3M88.9 607.36H81.3M88.9 629.80H84.3M88.9 652.23H81.3M88.9 674.67H84.3M88.9 697.10H81.3" fill="none" stroke="#555" stroke-width="1.1"/>
<text transform="translate(72.2 253.50) scale(1.04 1)" font-size="16.3" text-anchor="end" fill="#222">2000</text>
<text transform="translate(72.2 298.37) scale(1.04 1)" font-size="16.3" text-anchor="end" fill="#222">1900</text>
<text transform="translate(72.2 343.24) scale(1.04 1)" font-size="16.3" text-anchor="end" fill="#222">1800</text>
<text transform="translate(72.2 388.11) scale(1.04 1)" font-size="16.3" text-anchor="end" fill="#222">1700</text>
<text transform="translate(72.2 432.98) scale(1.04 1)" font-size="16.3" text-anchor="end" fill="#222">1600</text>
<text transform="translate(72.2 477.85) scale(1.04 1)" font-size="16.3" text-anchor="end" fill="#222">1500</text>
<text transform="translate(72.2 522.72) scale(1.04 1)" font-size="16.3" text-anchor="end" fill="#222">1400</text>
<text transform="translate(72.2 567.59) scale(1.04 1)" font-size="16.3" text-anchor="end" fill="#222">1300</text>
<text transform="translate(72.2 612.46) scale(1.04 1)" font-size="16.3" text-anchor="end" fill="#222">1200</text>
<text transform="translate(72.2 657.33) scale(1.04 1)" font-size="16.3" text-anchor="end" fill="#222">1100</text>
<text transform="translate(72.2 702.20) scale(1.04 1)" font-size="16.3" text-anchor="end" fill="#222">1000</text>
<text transform="translate(17.2 470.2) rotate(-90)" font-size="20.2" text-anchor="middle" fill="#222">Year AD</text>
<text transform="translate(700.2 763.2) scale(1.035 1)" font-size="16.4" text-anchor="middle" fill="#222">Percentage (%)</text>
<text x="1318.3" y="280.90" font-size="19.3" text-anchor="middle" fill="#222">D</text>
<text x="1318.3" y="366.00" font-size="19.3" text-anchor="middle" fill="#222">C</text>
<text x="1318.3" y="464.20" font-size="19.3" text-anchor="middle" fill="#222">B</text>
<text x="1318.3" y="607.10" font-size="19.3" text-anchor="middle" fill="#222">A</text>
<text transform="translate(111.50 223.50) rotate(-45)" font-size="19.20" fill="#1e1e1e"><tspan font-style='italic'>Discostella stelligera</tspan></text>
<text transform="translate(265.30 223.50) rotate(-45)" font-size="19.20" fill="#1e1e1e"><tspan font-style='italic'>Tabellaria flocculosa</tspan> str. IIIp</text>
<text transform="translate(420.10 223.50) rotate(-45)" font-size="19.20" fill="#1e1e1e"><tspan font-style='italic'>Fragilaria crotonensis</tspan></text>
<text transform="translate(529.20 223.50) rotate(-45)" font-size="19.20" fill="#1e1e1e"><tspan font-style='italic'>Staurosirella pinnata</tspan></text>
<text transform="translate(615.30 223.50) rotate(-45)" font-size="19.20" fill="#1e1e1e"><tspan font-style='italic'>Asterionella formosa</tspan></text>
<text transform="translate(677.60 223.50) rotate(-45)" font-size="19.20" fill="#1e1e1e"><tspan font-style='italic'>Aulacoseira tenella</tspan></text>
<text transform="translate(741.50 223.50) rotate(-45)" font-size="19.20" fill="#1e1e1e"><tspan font-style='italic'>Stephanodiscus minutulus</tspan></text>
<text transform="translate(827.40 223.50) rotate(-45)" font-size="19.20" fill="#1e1e1e"><tspan font-style='italic'>Achnanthidium minutissimum</tspan></text>
<text transform="translate(868.30 223.50) rotate(-45)" font-size="19.20" fill="#1e1e1e"><tspan font-style='italic'>Cyclotella distinguenda</tspan></text>
<text transform="translate(909.10 223.50) rotate(-45)" font-size="19.20" fill="#1e1e1e"><tspan font-style='italic'>Nitzschia</tspan> spp.</text>
<text transform="translate(949.80 223.50) rotate(-45)" font-size="19.20" fill="#1e1e1e"><tspan font-style='italic'>Planothidium</tspan> spp.</text>
<text transform="translate(990.40 223.50) rotate(-45)" font-size="19.20" fill="#1e1e1e"><tspan font-style='italic'>Psammothidium</tspan> spp.</text>
<text transform="translate(1031.10 223.50) rotate(-45)" font-size="19.20" fill="#1e1e1e"><tspan font-style='italic'>Staurosira construens</tspan></text>
<text transform="translate(1072.50 223.50) rotate(-45)" font-size="19.20" fill="#1e1e1e"><tspan font-style='italic'>Staurosira construens</tspan> var <tspan font-style='italic'>binodis</tspan></text>
<text transform="translate(1113.10 223.50) rotate(-45)" font-size="19.20" fill="#1e1e1e"><tspan font-style='italic'>Staurosirella leptostauron</tspan> var <tspan font-style='italic'>dubia</tspan></text>
<text transform="translate(1153.80 223.50) rotate(-45)" font-size="19.20" fill="#1e1e1e">Other Planktonics</text>
<text transform="translate(1194.60 223.50) rotate(-45)" font-size="19.20" fill="#1e1e1e">Other Benthics/Fragilarioids</text>
<text transform="translate(1258.30 223.50) rotate(-45)" font-size="19.20" fill="#1e1e1e">Undistinguishable</text>
</svg>
</body></html>
